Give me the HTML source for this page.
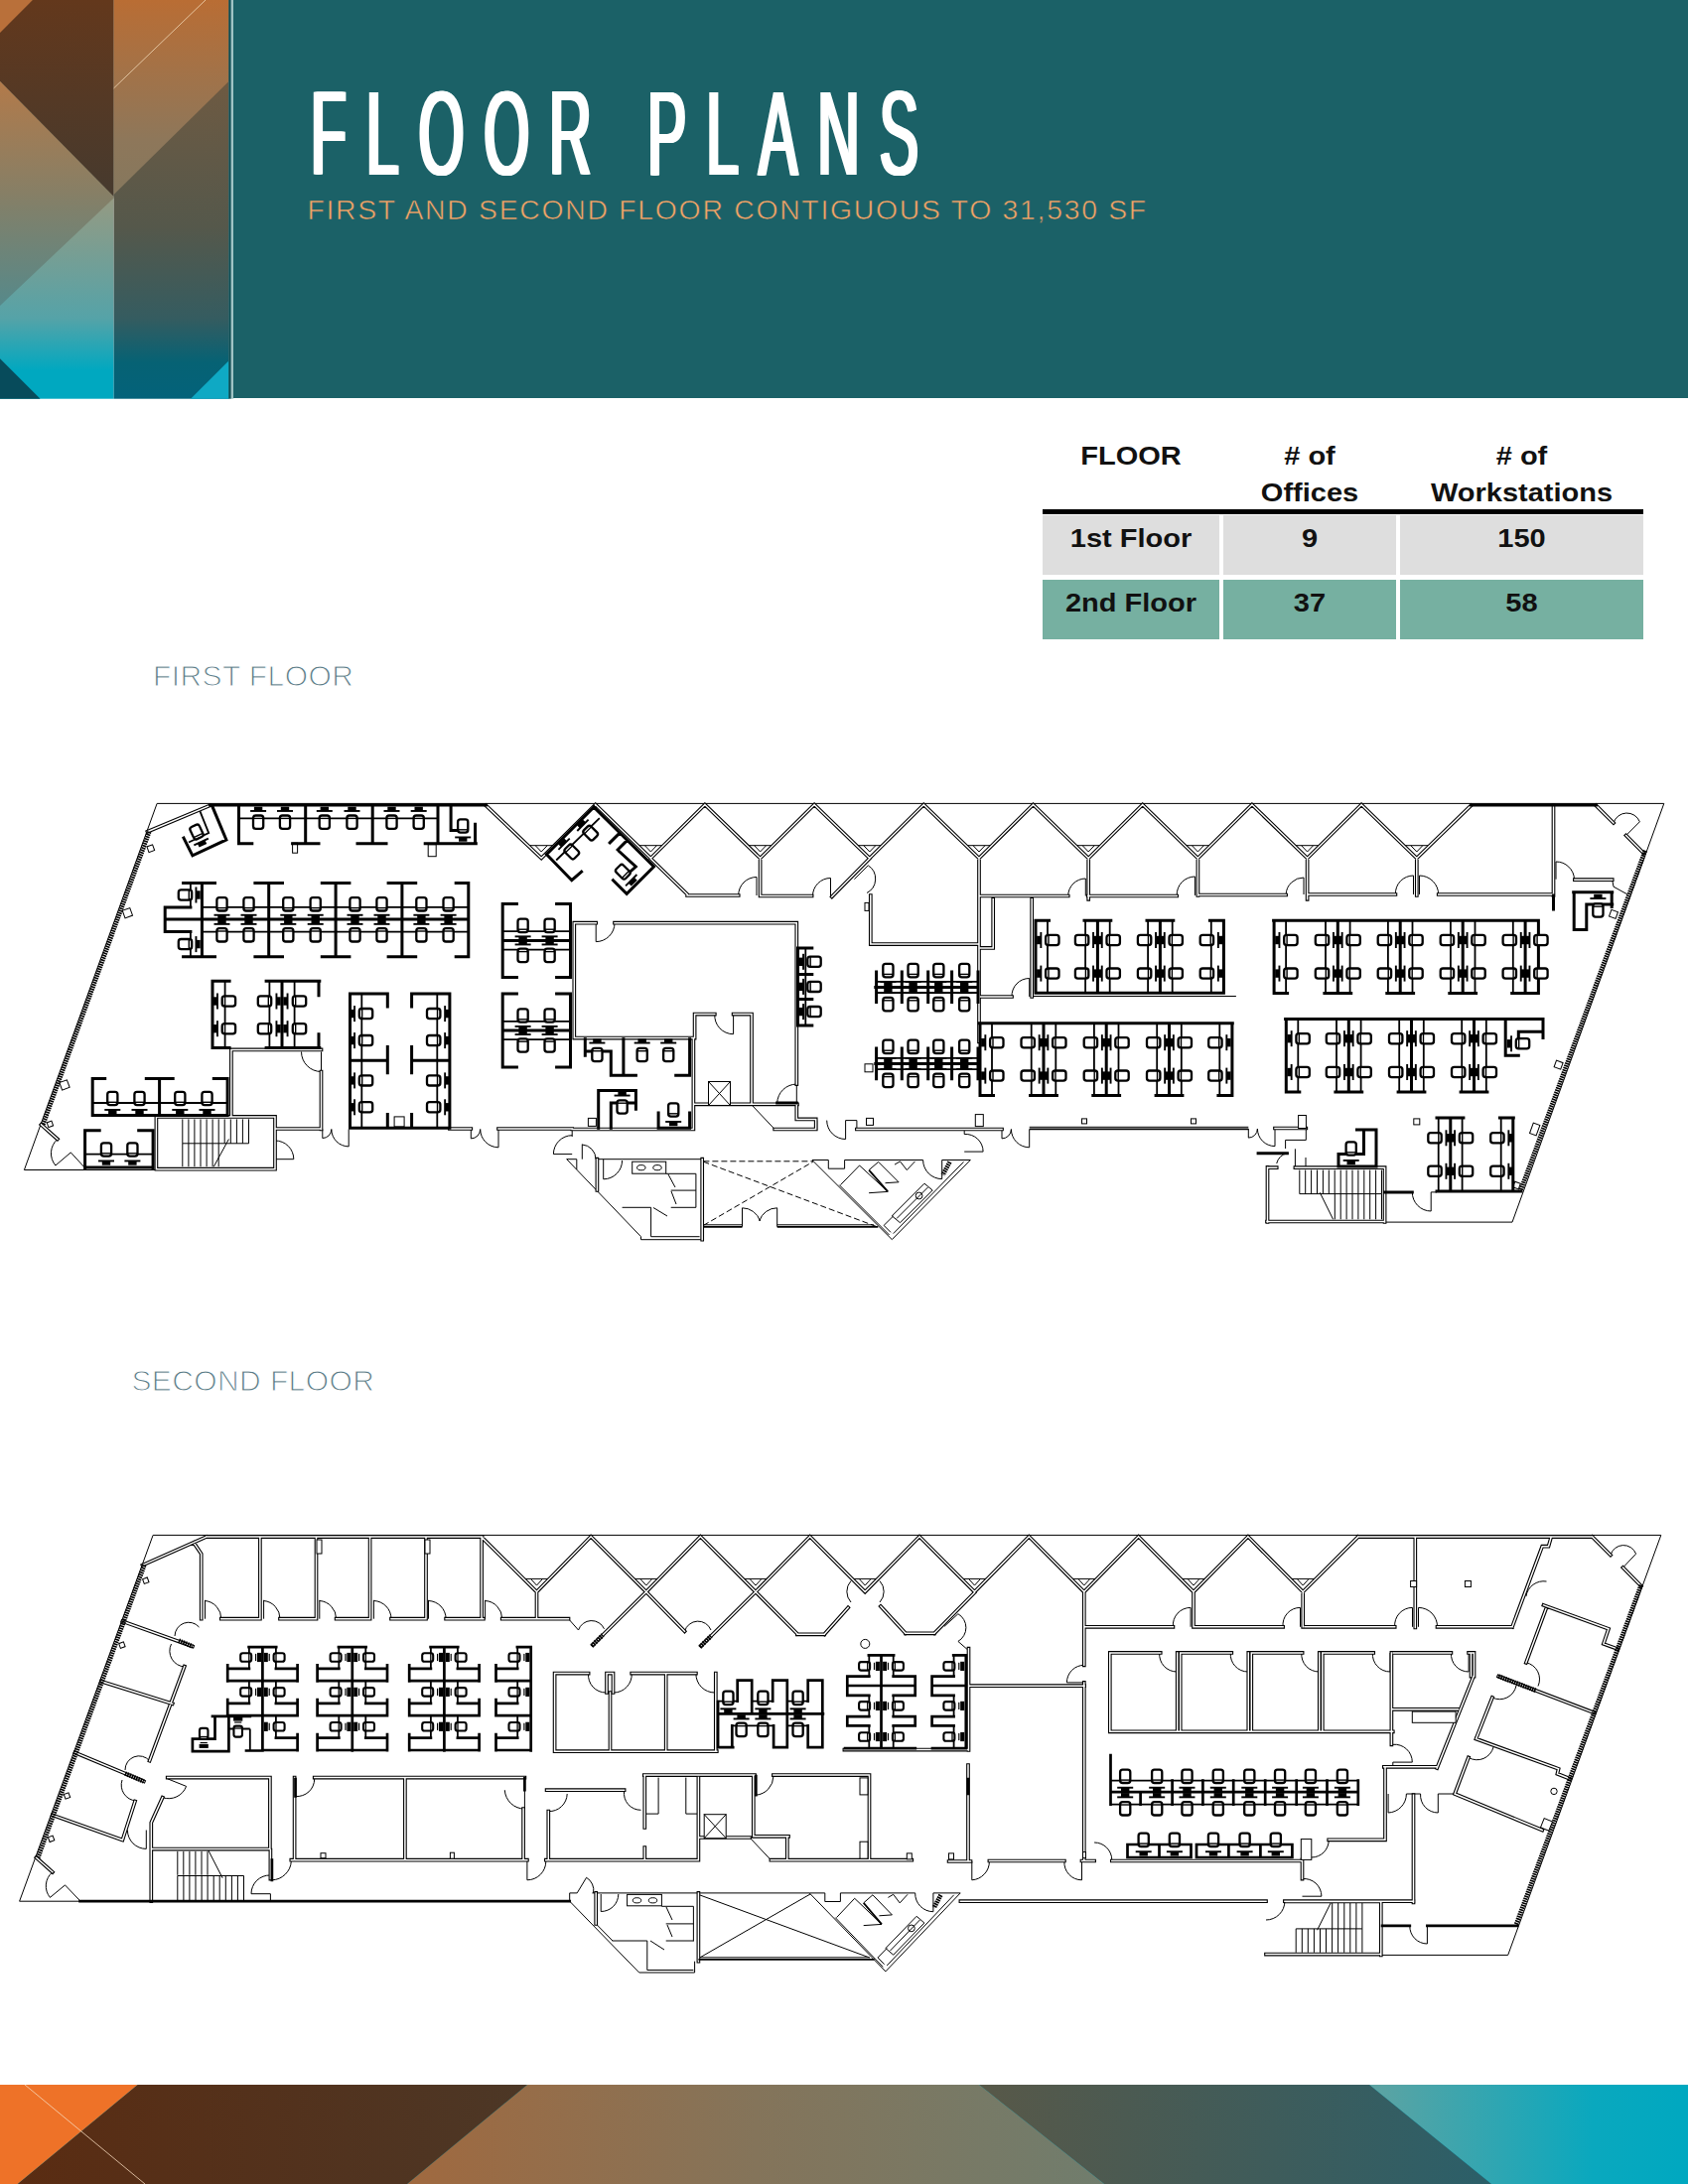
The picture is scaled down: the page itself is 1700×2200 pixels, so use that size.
<!DOCTYPE html>
<html lang="en"><head><meta charset="utf-8"><title>Floor Plans</title>
<style>
*{margin:0;padding:0;box-sizing:border-box}
html,body{width:1700px;height:2200px;background:#fff;overflow:hidden}
body{position:relative;font-family:"Liberation Sans",sans-serif}
.abs{position:absolute}
#hdr{left:235.3px;top:0;width:1464.7px;height:400.8px;background:#1b6167}
#title{left:311px;top:74px;font-size:120px;line-height:120px;color:#fff;white-space:nowrap;transform-origin:0 0;letter-spacing:0}
#sub{left:309.4px;top:195.3px;font-size:28.4px;line-height:32px;color:#f3a566;white-space:nowrap;letter-spacing:1.7px;-webkit-text-stroke:0.6px #1b6167}
.lbl{font-size:30px;line-height:32px;color:#5b7b86;white-space:nowrap;letter-spacing:0.4px;-webkit-text-stroke:1.1px #fff}
#tbl{left:1050px;top:440px;width:605px;font-weight:bold;color:#111;font-size:25px;text-align:center}
#tbl div{position:absolute;white-space:nowrap}
#tbl .c{transform:scaleX(1.16)}
</style></head><body>
<svg class="abs" style="left:0;top:0" width="236" height="402" viewBox="0 0 236 402">
<defs>
<linearGradient id="gA" gradientUnits="userSpaceOnUse" x1="0" y1="0" x2="0" y2="198"><stop offset="0" stop-color="#63381c"/><stop offset="1" stop-color="#463a2e"/></linearGradient>
<linearGradient id="gB" gradientUnits="userSpaceOnUse" x1="0" y1="83" x2="0" y2="308"><stop offset="0" stop-color="#b27a4a"/><stop offset="0.5" stop-color="#867f66"/><stop offset="1" stop-color="#56898a"/></linearGradient>
<linearGradient id="gC" gradientUnits="userSpaceOnUse" x1="0" y1="199" x2="0" y2="402"><stop offset="0" stop-color="#959a82"/><stop offset="0.6" stop-color="#55a3a8"/><stop offset="0.86" stop-color="#00a8c0"/><stop offset="1" stop-color="#00a8c0"/></linearGradient>
<linearGradient id="gD" gradientUnits="userSpaceOnUse" x1="0" y1="0" x2="0" y2="200"><stop offset="0" stop-color="#b96d34"/><stop offset="0.7" stop-color="#8e775a"/><stop offset="1" stop-color="#85785e"/></linearGradient>
<linearGradient id="gE" gradientUnits="userSpaceOnUse" x1="0" y1="82" x2="0" y2="402"><stop offset="0" stop-color="#6e5a42"/><stop offset="0.46" stop-color="#55584b"/><stop offset="0.745" stop-color="#355c60"/><stop offset="0.885" stop-color="#066274"/><stop offset="1" stop-color="#03627a"/></linearGradient>
</defs>
<rect x="0" y="0" width="114.6" height="401.7" fill="url(#gC)"/>
<polygon points="0,81.7 114.6,198 114.6,199.5 0,308" fill="url(#gB)"/>
<polygon points="0,0 114.6,0 114.6,198 0,81.7" fill="url(#gA)"/>
<polygon points="0,0 32.9,0 0,32.9" fill="#b9703a"/>
<polygon points="0,361.2 40.5,401.7 0,401.7" fill="#074b5b"/>
<rect x="114.6" y="0" width="116" height="401.7" fill="url(#gE)"/>
<polygon points="114.6,0 230.6,0 230.6,81.7 114.6,196" fill="url(#gD)"/>
<polygon points="230.6,363.2 230.6,401.7 192,401.7" fill="#0fa9c4"/>
<line x1="114.6" y1="88.9" x2="207" y2="0" stroke="#f3d9b8" stroke-width="0.8"/>
<rect x="230.3" y="0" width="2.5" height="401.7" fill="#0c4e54"/>
<rect x="232.8" y="0" width="2.5" height="401.7" fill="#9fc3c4"/>
</svg>
<div id="hdr" class="abs"></div>
<div id="title" class="abs" style="transform:scaleX(0.49);letter-spacing:40.9px;text-shadow:2px 0 #fff,4px 0 #fff,6px 0 #fff,7.5px 0 #fff">FLOOR PLANS</div>
<div id="sub" class="abs">FIRST AND SECOND FLOOR CONTIGUOUS TO 31,530 SF</div>
<div class="abs lbl" style="left:154px;top:664.6px">FIRST FLOOR</div>
<div class="abs lbl" style="left:132.4px;top:1374.6px">SECOND FLOOR</div>
<div id="tbl" class="abs">
<div style="left:0;top:73px;width:605px;height:5px;background:#000"></div>
<div style="left:0;top:79px;width:178px;height:60px;background:#dedede"></div>
<div style="left:182px;top:79px;width:174px;height:60px;background:#dedede"></div>
<div style="left:360px;top:79px;width:245px;height:60px;background:#dedede"></div>
<div style="left:0;top:144px;width:178px;height:60px;background:#76b0a1"></div>
<div style="left:182px;top:144px;width:174px;height:60px;background:#76b0a1"></div>
<div style="left:360px;top:144px;width:245px;height:60px;background:#76b0a1"></div>
<div class="c" style="left:0;width:178px;top:5px">FLOOR</div>
<div class="c" style="left:182px;width:174px;top:5px"># of</div>
<div class="c" style="left:182px;width:174px;top:42px">Offices</div>
<div class="c" style="left:360px;width:245px;top:5px"># of</div>
<div class="c" style="left:360px;width:245px;top:42px">Workstations</div>
<div class="c" style="left:0;width:178px;top:88px">1st Floor</div>
<div class="c" style="left:182px;width:174px;top:88px">9</div>
<div class="c" style="left:360px;width:245px;top:88px">150</div>
<div class="c" style="left:0;width:178px;top:153px">2nd Floor</div>
<div class="c" style="left:182px;width:174px;top:153px">37</div>
<div class="c" style="left:360px;width:245px;top:153px">58</div>
</div>
<svg class="abs" style="left:0;top:2100px" width="1700" height="100" viewBox="0 0 1700 100">
<defs>
<linearGradient id="hA" x1="0" y1="0" x2="1" y2="0"><stop offset="0" stop-color="#5a2c12"/><stop offset="1" stop-color="#4c3726"/></linearGradient>
<linearGradient id="hB" x1="0" y1="0" x2="1" y2="0"><stop offset="0" stop-color="#a0693f"/><stop offset="0.5" stop-color="#84745a"/><stop offset="1" stop-color="#707d6d"/></linearGradient>
<linearGradient id="hC" x1="0" y1="0" x2="1" y2="0"><stop offset="0" stop-color="#585848"/><stop offset="1" stop-color="#2b5f69"/></linearGradient>
<linearGradient id="hD" x1="0" y1="0" x2="1" y2="0"><stop offset="0" stop-color="#5fa3a2"/><stop offset="0.7" stop-color="#0aa8be"/><stop offset="1" stop-color="#00a8c0"/></linearGradient>
</defs>
<rect x="0" y="0" width="1700" height="100" fill="#00a8c0"/>
<polygon points="1379,0 1700,0 1700,100 1502,100" fill="url(#hD)"/>
<polygon points="986,0 1379,0 1502,100 1112,100" fill="url(#hC)"/>
<polygon points="531,0 986,0 1112,100 410,100" fill="url(#hB)"/>
<polygon points="138.5,0 531,0 410,100 17.6,100" fill="url(#hA)"/>
<polygon points="0,0 138.5,0 17.6,100 0,100" fill="#ee7228"/>
<line x1="25" y1="0" x2="146" y2="100" stroke="#f6d9bd" stroke-width="0.8"/>
</svg>
<svg class="abs" style="left:0;top:780px" width="1700" height="1300" viewBox="0 780 1700 1300">
<defs>
<g id="ch"><rect x="-5.1" y="-6.7" width="10.2" height="13.4" rx="2.6" fill="#fff" stroke="#000" stroke-width="2.3"/><path d="M-5 3.8H5" stroke="#000" stroke-width="1.4" fill="none"/></g>
<g id="mo"><rect x="-8" y="-1" width="16" height="1.9" fill="#000"/><rect x="-4.2" y="0" width="8.4" height="4.2" fill="#000"/></g>
<g id="cs"><rect x="-4.25" y="-5.6" width="8.5" height="11" rx="2.3" fill="#fff" stroke="#000" stroke-width="2.1"/><path d="M-4 3H4" stroke="#000" stroke-width="1.3" fill="none"/></g>
<g id="ms"><rect x="-3.6" y="-2.6" width="7.2" height="1.2" fill="#000"/><rect x="-4.6" y="-0.6" width="9.2" height="4" fill="#000"/></g>
</defs>
<g fill="none" stroke="#000" stroke-linecap="butt" stroke-linejoin="miter">
<path stroke-width="1" d="M24.4 1178.5 L158.1 809.4 L1675.8 809.4 L1523.0 1231.1 L1275.0 1231.1 M24.4 1178.5 L277.0 1178.5 M57.9 1147.5 A19.0 19.0 0 0 0 55.9 1174.0 L71.3 1160.9 M71.3 1160.9 L85.6 1176.5 M532.2 851.7 L558.2 851.7 M539.2 851.7 L545.2 858.0 L551.2 851.7 M642.4 851.7 L668.4 851.7 M649.4 851.7 L655.4 858.0 L661.4 851.7 M752.6 851.7 L778.6 851.7 M759.6 851.7 L765.6 858.0 L771.6 851.7 M862.8 851.7 L888.8 851.7 M869.8 851.7 L875.8 858.0 L881.8 851.7 M973.0 851.7 L999.0 851.7 M980.0 851.7 L986.0 858.0 L992.0 851.7 M1083.2 851.7 L1109.2 851.7 M1090.2 851.7 L1096.2 858.0 L1102.2 851.7 M1193.4 851.7 L1219.4 851.7 M1200.4 851.7 L1206.4 858.0 L1212.4 851.7 M1303.6 851.7 L1329.6 851.7 M1310.6 851.7 L1316.6 858.0 L1322.6 851.7 M1413.8 851.7 L1439.8 851.7 M1420.8 851.7 L1426.8 858.0 L1432.8 851.7 M743.7 902.0 A18.3 18.3 0 0 1 762.0 883.5 L762.0 902.0 M818.5 902.5 A18.0 18.0 0 0 1 836.5 884.5 L836.5 902.5 M860.4 885.7 L874.3 871.8 M874.3 871.8 A16.0 16.0 0 0 1 873.0 899.5 M1075.7 902.5 A17.6 17.6 0 0 1 1093.3 885.0 L1093.3 902.5 M1185.2 902.0 A18.3 18.3 0 0 1 1203.5 883.0 L1203.5 902.0 M1295.1 901.0 A17.9 17.9 0 0 1 1313.0 884.0 L1313.0 901.0 M1405.4 901.0 A18.1 18.1 0 0 1 1423.5 882.0 L1423.5 901.0 M1448.7 901.0 A19.2 19.2 0 0 0 1429.5 882.0 L1429.5 901.0 M1585.5 885.7 A18.5 18.5 0 0 0 1567.0 868.0 L1567.0 885.7 M1623.7 886.2 L1625.0 893.2 L1638.8 900.8 M1625.0 829.0 A14.0 14.0 0 0 1 1651.4 827.8 M1651.4 827.8 L1637.6 841.6 M1040.4 1003.5 L1244.9 1003.5 M1019.0 1004.0 A17.7 17.7 0 0 1 1036.7 985.5 L1036.7 1004.0 M303.5 1059.5 A20.0 20.0 0 0 0 323.5 1079.5 L323.5 1059.5 M183.8 1127.4 L183.8 1151.8 M189.9 1127.4 L189.9 1151.8 M195.9 1127.4 L195.9 1151.8 M202.0 1127.4 L202.0 1151.8 M208.1 1127.4 L208.1 1151.8 M214.1 1127.4 L214.1 1151.8 M220.2 1127.4 L220.2 1151.8 M226.2 1127.4 L226.2 1151.8 M232.3 1127.4 L232.3 1151.8 M238.4 1127.4 L238.4 1151.8 M244.4 1127.4 L244.4 1151.8 M250.5 1127.4 L250.5 1151.8 M183.8 1151.8 L183.8 1175.2 M189.9 1151.8 L189.9 1175.2 M195.9 1151.8 L195.9 1175.2 M202.0 1151.8 L202.0 1175.2 M208.1 1151.8 L208.1 1175.2 M214.1 1151.8 L214.1 1175.2 M220.2 1151.8 L220.2 1175.2 M183.8 1151.8 L250.5 1151.8 M230.4 1147.5 L215.3 1175.2 M277.0 1149.0 A18.7 18.7 0 0 1 295.8 1167.7 L277.0 1167.7 M324.8 1137.5 L324.8 1146.5 M324.8 1146.5 A9.0 9.0 0 0 0 333.8 1137.5 M351.2 1137.5 L351.2 1154.9 M351.2 1154.9 A17.4 17.4 0 0 1 333.8 1137.5 M474.3 1137.5 L474.3 1146.9 M474.3 1146.9 A9.4 9.4 0 0 0 483.7 1137.5 M502.0 1137.5 L502.0 1155.8 M502.0 1155.8 A18.3 18.3 0 0 1 483.7 1137.5 M619.0 929.7 A18.8 18.8 0 0 1 600.2 948.6 L600.2 929.7 M719.8 1021.6 A18.8 18.8 0 0 0 738.6 1041.7 L738.6 1021.6 M782.7 1111.0 A19.6 19.6 0 0 1 802.3 1092.1 L802.3 1111.0 M757.5 1113.5 L780.2 1137.5 M822.7 1128.6 L822.7 1138.7 M832.7 1128.6 A18.9 18.9 0 0 0 851.6 1147.5 L851.6 1128.6 M851.6 1128.6 L862.9 1128.6 M862.9 1128.6 L862.9 1137.5 M1009.0 1137.5 L1009.0 1146.9 M1009.0 1146.9 A9.4 9.4 0 0 0 1018.4 1137.5 M1036.7 1137.5 L1036.7 1155.8 M1036.7 1155.8 A18.3 18.3 0 0 1 1018.4 1137.5 M1036.7 1135.3 L1257.3 1135.3 M1257.3 1137.0 L1257.3 1146.1 M1257.3 1146.1 A9.1 9.1 0 0 0 1266.4 1137.0 M1284.0 1137.0 L1284.0 1154.6 M1284.0 1154.6 A17.6 17.6 0 0 1 1266.4 1137.0 M1315.3 1136.5 L1315.3 1148.4 L1294.6 1148.4 L1294.6 1157.0 M1296.4 1161.7 A14.2 14.2 0 0 0 1285.7 1172.0 M1304.4 1157.3 L1304.4 1176.0 M1315.0 1166.0 L1315.0 1176.0 M1308.8 1178.6 L1308.8 1202.6 M1314.7 1178.6 L1314.7 1202.6 M1320.6 1178.6 L1320.6 1202.6 M1326.5 1178.6 L1326.5 1202.6 M1332.4 1178.6 L1332.4 1202.6 M1338.3 1178.6 L1338.3 1202.6 M1344.2 1178.6 L1344.2 1202.6 M1350.2 1178.6 L1350.2 1202.6 M1356.1 1178.6 L1356.1 1202.6 M1362.0 1178.6 L1362.0 1202.6 M1367.9 1178.6 L1367.9 1202.6 M1373.8 1178.6 L1373.8 1202.6 M1379.7 1178.6 L1379.7 1202.6 M1385.6 1178.6 L1385.6 1202.6 M1391.5 1178.6 L1391.5 1202.6 M1344.3 1202.6 L1344.3 1228.3 M1350.2 1202.6 L1350.2 1228.3 M1356.1 1202.6 L1356.1 1228.3 M1362.0 1202.6 L1362.0 1228.3 M1367.9 1202.6 L1367.9 1228.3 M1373.8 1202.6 L1373.8 1228.3 M1379.7 1202.6 L1379.7 1228.3 M1385.6 1202.6 L1385.6 1228.3 M1391.5 1202.6 L1391.5 1228.3 M1308.8 1202.6 L1391.5 1202.6 M1329.3 1201.3 L1342.6 1228.3 M1422.3 1200.9 A18.9 18.9 0 0 0 1441.2 1220.0 L1441.2 1200.9 M1441.2 1200.9 L1447.0 1200.9 M576.2 1137.5 L576.2 1145.0 M576.2 1143.7 A18.9 18.9 0 0 0 557.4 1162.6 L576.2 1162.6 M586.3 1152.6 L586.3 1167.7 M586.3 1153.0 A14.7 14.7 0 0 1 600.0 1167.7 M570.7 1167.7 L645.5 1245.7 L645.5 1248.7 L705.9 1248.7 M570.7 1167.7 L580.8 1167.7 M601.4 1167.7 L707.2 1167.7 M580.8 1167.7 L580.8 1178.0 M607.7 1167.7 L607.7 1187.8 M607.7 1187.8 A18.8 18.8 0 0 0 626.6 1169.0 M670.7 1182.3 L700.9 1182.3 M675.7 1199.1 L700.9 1199.1 M675.7 1216.3 L700.9 1216.3 M700.9 1182.3 L700.9 1216.3 M673.0 1183.0 L680.0 1196.0 M676.0 1200.0 L681.0 1213.0 M658.0 1216.5 L672.0 1225.0 M626.6 1216.3 L655.6 1216.3 M655.6 1216.3 L655.6 1245.7 M655.6 1245.7 L704.6 1245.7 M708.4 1233.8 L747.5 1233.8 M747.5 1216.8 L747.5 1235.7 M782.7 1216.8 L782.7 1235.7 M782.7 1233.8 L880.0 1233.8 M747.5 1216.8 A18.9 18.9 0 0 1 765.5 1230.0 M782.7 1216.8 A18.9 18.9 0 0 0 764.7 1230.0 M817.9 1168.5 L834.3 1168.5 L834.3 1177.2 L850.6 1177.2 L850.6 1168.5 L929.6 1168.5 M948.7 1168.5 L977.3 1168.5 M929.6 1168.5 A19.1 19.1 0 0 0 948.7 1187.6 L948.7 1168.5 M977.3 1168.5 L898.3 1248.6 L817.9 1168.5 M845.2 1193.6 L895.6 1244.0 M970.5 1170.4 L899.7 1242.6 M846.5 1193.6 L865.6 1174.0 L894.2 1200.4 L875.1 1201.7 M875.1 1178.6 L884.7 1170.4 L905.1 1190.8 L891.5 1191.7 M901.0 1173.1 L906.5 1169.9 L913.3 1178.6 L921.5 1169.9 M931.0 1192.2 L939.2 1199.0 L906.5 1231.7 L898.3 1224.9 L931.0 1192.2 M934.5 1196.0 L903.0 1227.5 M899.7 1224.9 L890.1 1234.4 L897.0 1241.3 M971.2 1138.7 L971.2 1142.5 M971.2 1142.5 A17.6 17.6 0 0 1 990.1 1160.1 L971.2 1160.1"/>
<path stroke-width="1" stroke-dasharray="6 3" d="M708.4 1170.2 L883.1 1235.7 M708.4 1234.4 L818.9 1170.2 M708.4 1169.8 L818.9 1169.8"/>
<path stroke-width="3.7" stroke-linecap="square" d="M148.5 837.8 L211.5 811.4 M41.5 1132.9 L57.9 1147.5 M489.4 811.4 L545.2 864.5 L599.7 810.5 L655.4 864.5 L709.9 810.5 L765.6 864.5 L820.1 810.5 L875.8 864.5 L930.3 810.5 L986.0 864.5 L1040.5 810.5 L1096.2 864.5 L1150.7 810.5 L1206.4 864.5 L1260.9 810.5 L1316.6 864.5 L1371.1 810.5 L1426.8 864.5 L1481.5 811.4 M655.4 865.0 L692.1 900.8 M692.1 902.0 L743.7 902.0 M765.6 864.5 L765.6 902.0 M765.6 902.5 L817.6 902.5 M837.8 903.3 L875.8 864.8 M876.8 902.0 L876.8 951.1 M876.8 951.1 L985.0 951.1 M986.0 864.5 L986.0 1049.3 M1096.2 864.5 L1096.2 905.8 M1206.4 864.5 L1206.4 902.0 M1316.6 864.5 L1316.6 905.8 M1426.8 864.5 L1426.8 902.0 M986.0 902.5 L1075.7 902.5 M1095.8 902.5 L1185.2 902.5 M1206.4 901.5 L1295.1 901.5 M1317.8 901.0 L1405.4 901.0 M1448.7 901.0 L1563.3 901.0 M1564.5 811.4 L1564.5 902.0 M1585.9 886.2 L1623.7 886.2 M1607.4 811.4 L1625.0 829.0 M1637.6 841.6 L1655.2 859.2 M1000.2 905.8 L1000.2 954.9 M987.6 954.9 L1000.2 954.9 M1039.2 905.8 L1039.2 1004.0 M987.6 1004.0 L1019.0 1004.0 M232.9 1057.4 L232.9 1123.6 M232.9 1057.4 L323.5 1057.4 M323.5 1079.5 L323.5 1137.5 M277.0 1137.0 L323.5 1137.0 M157.4 1124.9 L277.0 1124.9 L277.0 1177.7 L157.4 1177.7 L157.4 1124.9 M452.9 1137.0 L474.3 1137.0 M502.0 1137.0 L576.2 1137.0 M578.3 929.7 L578.3 1045.6 M578.3 929.7 L600.2 929.7 M619.0 929.7 L802.3 929.7 M802.3 929.7 L802.3 1092.1 M578.3 1045.6 L699.6 1045.6 L699.6 1021.6 L719.8 1021.6 M738.6 1021.6 L757.0 1021.6 L757.0 1112.3 M698.4 1045.6 L698.4 1137.5 M698.4 1112.3 L802.9 1112.3 M780.2 1137.5 L821.4 1137.5 M802.3 1112.3 L802.3 1127.4 L821.7 1127.4 L821.7 1137.5 M576.2 1137.5 L698.4 1137.5 M862.9 1137.5 L1009.0 1137.5 M1284.0 1136.5 L1315.3 1136.5 M1276.5 1175.9 L1276.5 1231.0 M1276.5 1176.2 L1285.7 1176.2 M1304.4 1176.2 L1394.0 1176.2 M1394.6 1176.2 L1394.6 1231.0 M1276.0 1230.5 L1394.6 1230.5 M707.2 1167.7 L707.2 1248.7 M601.4 1167.7 L601.4 1199.0"/>
<path stroke="#fff" stroke-width="1.5" stroke-linecap="square" d="M148.5 837.8 L211.5 811.4 M41.5 1132.9 L57.9 1147.5 M489.4 811.4 L545.2 864.5 L599.7 810.5 L655.4 864.5 L709.9 810.5 L765.6 864.5 L820.1 810.5 L875.8 864.5 L930.3 810.5 L986.0 864.5 L1040.5 810.5 L1096.2 864.5 L1150.7 810.5 L1206.4 864.5 L1260.9 810.5 L1316.6 864.5 L1371.1 810.5 L1426.8 864.5 L1481.5 811.4 M655.4 865.0 L692.1 900.8 M692.1 902.0 L743.7 902.0 M765.6 864.5 L765.6 902.0 M765.6 902.5 L817.6 902.5 M837.8 903.3 L875.8 864.8 M876.8 902.0 L876.8 951.1 M876.8 951.1 L985.0 951.1 M986.0 864.5 L986.0 1049.3 M1096.2 864.5 L1096.2 905.8 M1206.4 864.5 L1206.4 902.0 M1316.6 864.5 L1316.6 905.8 M1426.8 864.5 L1426.8 902.0 M986.0 902.5 L1075.7 902.5 M1095.8 902.5 L1185.2 902.5 M1206.4 901.5 L1295.1 901.5 M1317.8 901.0 L1405.4 901.0 M1448.7 901.0 L1563.3 901.0 M1564.5 811.4 L1564.5 902.0 M1585.9 886.2 L1623.7 886.2 M1607.4 811.4 L1625.0 829.0 M1637.6 841.6 L1655.2 859.2 M1000.2 905.8 L1000.2 954.9 M987.6 954.9 L1000.2 954.9 M1039.2 905.8 L1039.2 1004.0 M987.6 1004.0 L1019.0 1004.0 M232.9 1057.4 L232.9 1123.6 M232.9 1057.4 L323.5 1057.4 M323.5 1079.5 L323.5 1137.5 M277.0 1137.0 L323.5 1137.0 M157.4 1124.9 L277.0 1124.9 L277.0 1177.7 L157.4 1177.7 L157.4 1124.9 M452.9 1137.0 L474.3 1137.0 M502.0 1137.0 L576.2 1137.0 M578.3 929.7 L578.3 1045.6 M578.3 929.7 L600.2 929.7 M619.0 929.7 L802.3 929.7 M802.3 929.7 L802.3 1092.1 M578.3 1045.6 L699.6 1045.6 L699.6 1021.6 L719.8 1021.6 M738.6 1021.6 L757.0 1021.6 L757.0 1112.3 M698.4 1045.6 L698.4 1137.5 M698.4 1112.3 L802.9 1112.3 M780.2 1137.5 L821.4 1137.5 M802.3 1112.3 L802.3 1127.4 L821.7 1127.4 L821.7 1137.5 M576.2 1137.5 L698.4 1137.5 M862.9 1137.5 L1009.0 1137.5 M1284.0 1136.5 L1315.3 1136.5 M1276.5 1175.9 L1276.5 1231.0 M1276.5 1176.2 L1285.7 1176.2 M1304.4 1176.2 L1394.0 1176.2 M1394.6 1176.2 L1394.6 1231.0 M1276.0 1230.5 L1394.6 1230.5 M707.2 1167.7 L707.2 1248.7 M601.4 1167.7 L601.4 1199.0"/>
<path stroke-width="4.6" stroke-dasharray="1.6 0.8" d="M150.3 837.8 L43.3 1132.9 M1656.9 856.7 L1531.0 1200.4 M956.5 1170.5 L949.5 1183.5"/>
</g>
<rect x="148.8" y="851.7" width="6.0" height="6.0" fill="#fff" stroke="#000" stroke-width="1" transform="rotate(-20 151.8 854.7)"/>
<rect x="124.4" y="915.7" width="8.0" height="8.0" fill="#fff" stroke="#000" stroke-width="1" transform="rotate(-20 128.4 919.7)"/>
<rect x="61.0" y="1088.9" width="8.0" height="8.0" fill="#fff" stroke="#000" stroke-width="1" transform="rotate(-20 65.0 1092.9)"/>
<rect x="47.9" y="1129.9" width="5.0" height="5.0" fill="#fff" stroke="#000" stroke-width="1" transform="rotate(-20 50.4 1132.4)"/>
<rect x="1621.5" y="917.4" width="7.0" height="7.0" fill="#fff" stroke="#000" stroke-width="1" transform="rotate(20 1625.0 920.9)"/>
<rect x="1566.1" y="1069.2" width="7.0" height="7.0" fill="#fff" stroke="#000" stroke-width="1" transform="rotate(20 1569.6 1072.7)"/>
<rect x="1542.2" y="1132.0" width="7.0" height="11.0" fill="#fff" stroke="#000" stroke-width="1" transform="rotate(20 1545.7 1137.5)"/>
<rect x="1524.5" y="1191.1" width="6.0" height="6.0" fill="#fff" stroke="#000" stroke-width="1" transform="rotate(20 1527.5 1194.1)"/>
<rect x="871.0" y="909.4" width="4.0" height="8.0" fill="#fff" stroke="#000" stroke-width="1"/>
<rect x="294.6" y="849.2" width="5.0" height="10.0" fill="#fff" stroke="#000" stroke-width="1"/>
<rect x="431.2" y="850.7" width="8.0" height="12.0" fill="#fff" stroke="#000" stroke-width="1"/>
<rect x="397.1" y="1124.9" width="10.0" height="10.0" fill="#fff" stroke="#000" stroke-width="1"/>
<rect x="713.5" y="1089.5" width="22.0" height="24.0" fill="#fff" stroke="#000" stroke-width="1"/>
<path d="M713.5 1089.5L735.5 1113.5M735.5 1089.5L713.5 1113.5" stroke="#000" fill="none"/>
<rect x="592.4" y="1126.4" width="8.0" height="8.0" fill="#fff" stroke="#000" stroke-width="1"/>
<rect x="871.0" y="1071.8" width="8.0" height="8.0" fill="#fff" stroke="#000" stroke-width="1"/>
<rect x="1307.6" y="1123.5" width="7.8" height="13.0" fill="#fff" stroke="#000" stroke-width="1"/>
<rect x="872.5" y="1126.4" width="7.0" height="7.0" fill="#fff" stroke="#000" stroke-width="1"/>
<rect x="982.3" y="1122.6" width="8.0" height="12.0" fill="#fff" stroke="#000" stroke-width="1"/>
<rect x="1089.5" y="1126.9" width="5.0" height="5.0" fill="#fff" stroke="#000" stroke-width="1"/>
<rect x="1199.5" y="1126.9" width="5.0" height="5.0" fill="#fff" stroke="#000" stroke-width="1"/>
<rect x="1423.8" y="1126.9" width="6.0" height="6.0" fill="#fff" stroke="#000" stroke-width="1"/>
<rect x="636.7" y="1170.2" width="34.0" height="12.0" fill="#fff" stroke="#000" stroke-width="1"/>
<ellipse cx="645.8" cy="1176.2" rx="4.2" ry="2.6" fill="none" stroke="#000"/><ellipse cx="662" cy="1176.2" rx="4.2" ry="2.6" fill="none" stroke="#000"/>
<circle cx="925.6" cy="1204.5" r="3.4" fill="none" stroke="#000" stroke-width="1"/>
<g fill="none" stroke="#000">
<path stroke-width="1.8" d="M240.5 824.4 L441.0 824.4 M201.4 817.2 L210.2 839.1 L190.0 848.5 M203.4 913.9 L471.8 913.9 M203.4 938.6 L471.8 938.6 M191.9 889.5 L191.9 913.9 M191.9 938.6 L191.9 963.7 M226.6 988.2 L226.6 1055.6 M271.4 988.2 L271.4 1055.6 M296.6 988.2 L296.6 1055.6 M93.2 1111.0 L229.1 1111.0 M85.6 1162.6 L154.1 1162.6 M364.3 1001.0 L364.3 1136.2 M440.3 1001.0 L440.3 1136.2 M506.2 938.2 L574.5 938.2 M506.2 956.6 L574.5 956.6 M506.2 1028.8 L574.5 1028.8 M506.2 1047.2 L574.5 1047.2 M811.3 954.9 L811.3 1033.0 M603.8 824.1 L560.2 866.5 M882.0 988.8 L985.0 988.8 M882.0 1000.0 L985.0 1000.0 M882.0 1065.9 L985.0 1065.9 M882.0 1077.1 L985.0 1077.1 M1093.1 927.2 L1093.1 1000.2 M1117.7 927.2 L1117.7 1000.2 M1156.1 927.2 L1156.1 1000.2 M1180.7 927.2 L1180.7 1000.2 M1055.0 927.2 L1055.0 1000.2 M1219.8 927.2 L1219.8 1000.2 M1038.7 1030.8 L1038.7 1103.6 M1063.3 1030.8 L1063.3 1103.6 M1101.9 1030.8 L1101.9 1103.6 M1126.5 1030.8 L1126.5 1103.6 M1165.2 1030.8 L1165.2 1103.6 M1189.8 1030.8 L1189.8 1103.6 M999.0 1030.8 L999.0 1103.6 M1228.3 1030.8 L1228.3 1103.6 M1335.0 927.3 L1335.0 1000.5 M1359.6 927.3 L1359.6 1000.5 M1397.9 927.3 L1397.9 1000.5 M1422.5 927.3 L1422.5 1000.5 M1460.9 927.3 L1460.9 1000.5 M1485.5 927.3 L1485.5 1000.5 M1295.1 927.3 L1295.1 1000.5 M1523.8 927.3 L1523.8 1000.5 M1346.0 1026.4 L1346.0 1100.0 M1370.6 1026.4 L1370.6 1100.0 M1409.2 1026.4 L1409.2 1100.0 M1433.8 1026.4 L1433.8 1100.0 M1472.2 1026.4 L1472.2 1100.0 M1496.8 1026.4 L1496.8 1100.0 M1307.3 1026.4 L1307.3 1100.0 M1448.7 1126.1 L1448.7 1199.1 M1472.6 1126.1 L1472.6 1199.1 M1511.7 1126.1 L1511.7 1199.1 M1036.7 1137.4 L1257.3 1137.4 M708.4 1235.9 L747.5 1235.9 M782.7 1235.9 L884.3 1235.9 M875.1 1178.6 L894.2 1200.4"/>
<path stroke-width="3" stroke-linecap="square" d="M211.5 811.0 L489.4 811.0 M1481.5 811.0 L1607.4 811.0 M1564.5 902.0 L1564.5 915.9 M240.5 811.4 L240.5 849.7 M240.5 849.7 L253.8 849.7 M307.7 811.4 L307.7 849.7 M294.6 849.7 L321.0 849.7 M375.2 811.4 L375.2 849.7 M360.0 849.7 L389.0 849.7 M441.0 811.4 L441.0 849.7 M428.2 849.7 L479.3 849.7 M454.1 811.4 L454.1 836.6 M454.1 836.6 L460.4 836.6 M478.6 830.3 L478.6 849.7 M214.0 812.7 L227.9 845.9 L193.9 861.8 L185.0 844.1 M166.2 926.0 L471.8 926.0 M166.2 913.9 L166.2 938.6 M166.2 913.9 L191.9 913.9 M166.2 938.6 L191.9 938.6 M203.4 889.5 L203.4 963.7 M184.6 889.5 L216.5 889.5 M184.6 963.7 L216.5 963.7 M270.7 889.5 L270.7 963.7 M256.9 889.5 L284.5 889.5 M256.9 963.7 L284.5 963.7 M338.1 889.5 L338.1 963.7 M324.3 889.5 L351.9 889.5 M324.3 963.7 L351.9 963.7 M404.9 889.5 L404.9 963.7 M391.1 889.5 L418.7 889.5 M391.1 963.7 L418.7 963.7 M471.8 889.5 L471.8 963.7 M459.2 889.5 L471.8 889.5 M459.2 963.7 L471.8 963.7 M214.0 988.2 L214.0 1055.6 M214.0 988.2 L231.1 988.2 M214.0 1055.6 L231.1 1055.6 M268.1 988.2 L321.8 988.2 M321.0 988.2 L321.0 1002.8 M321.0 1041.8 L321.0 1055.6 M268.1 1055.6 L321.8 1055.6 M284.0 988.2 L284.0 1055.6 M93.2 1086.6 L93.2 1123.6 M93.2 1086.6 L105.7 1086.6 M147.3 1086.6 L174.2 1086.6 M160.6 1086.6 L160.6 1123.6 M215.3 1086.6 L229.1 1086.6 M229.1 1086.6 L229.1 1123.6 M93.2 1123.6 L229.1 1123.6 M85.6 1138.7 L85.6 1176.5 M85.6 1138.7 L100.2 1138.7 M139.7 1138.7 L154.1 1138.7 M154.1 1138.7 L154.1 1176.5 M85.6 1176.0 L154.1 1176.0 M352.5 1001.0 L352.5 1136.2 M352.5 1001.0 L390.3 1001.0 M390.3 1001.0 L390.3 1014.1 M352.5 1068.2 L390.3 1068.2 M390.3 1054.4 L390.3 1080.8 M390.3 1122.4 L390.3 1136.2 M452.9 1001.0 L452.9 1136.2 M452.9 1001.0 L414.6 1001.0 M414.6 1001.0 L414.6 1014.1 M452.9 1068.2 L414.6 1068.2 M414.6 1054.4 L414.6 1080.8 M414.6 1122.4 L414.6 1136.2 M352.5 1136.2 L452.9 1136.2 M506.2 910.4 L506.2 984.4 M506.2 910.4 L520.4 910.4 M506.2 984.4 L520.4 984.4 M574.5 910.4 L574.5 984.4 M560.6 910.4 L574.5 910.4 M560.6 984.4 L574.5 984.4 M506.2 947.4 L574.5 947.4 M506.2 1001.0 L506.2 1075.0 M506.2 1001.0 L520.4 1001.0 M506.2 1075.0 L520.4 1075.0 M574.5 1001.0 L574.5 1075.0 M560.6 1001.0 L574.5 1001.0 M560.6 1075.0 L574.5 1075.0 M506.2 1038.0 L574.5 1038.0 M782.7 1111.0 L802.3 1111.0 M589.3 1046.8 L589.3 1063.2 M589.3 1058.9 L615.3 1058.9 M615.3 1058.9 L615.3 1083.3 M615.3 1083.3 L640.4 1083.3 M627.9 1046.8 L627.9 1083.3 M694.6 1046.8 L694.6 1083.3 M680.7 1083.3 L694.6 1083.3 M602.7 1098.4 L602.7 1136.2 M602.7 1098.4 L640.4 1098.4 M640.4 1098.4 L640.4 1117.3 M615.3 1111.0 L640.4 1111.0 M615.3 1111.0 L615.3 1136.2 M663.1 1121.1 L663.1 1136.2 M694.6 1121.1 L694.6 1136.2 M663.1 1136.2 L694.6 1136.2 M803.5 954.9 L803.5 1033.0 M803.5 954.9 L817.8 954.9 M803.5 981.4 L817.8 981.4 M803.5 1006.5 L817.8 1006.5 M803.5 1033.0 L817.8 1033.0 M598.0 813.0 L550.4 860.6 L575.8 886.7 L585.6 878.2 M598.0 813.0 L658.5 873.0 L631.2 900.4 L617.5 886.7 M624.0 839.1 L614.2 848.9 M622.1 856.0 L631.2 846.9 M624.0 858.0 L640.3 873.0 L633.1 879.5 M881.8 994.4 L985.0 994.4 M882.6 979.0 L882.6 1009.6 M908.3 979.0 L908.3 1009.6 M934.7 979.0 L934.7 1009.6 M958.6 979.0 L958.6 1009.6 M985.0 979.0 L985.0 1009.6 M881.8 1071.5 L985.0 1071.5 M882.6 1056.1 L882.6 1086.7 M908.3 1056.1 L908.3 1086.7 M934.7 1056.1 L934.7 1086.7 M958.6 1056.1 L958.6 1086.7 M985.0 1056.1 L985.0 1086.7 M1105.4 927.2 L1105.4 1000.2 M1092.0 927.2 L1118.8 927.2 M1168.4 927.2 L1168.4 1000.2 M1155.0 927.2 L1181.8 927.2 M1043.0 927.2 L1043.0 1000.2 M1043.0 927.2 L1056.5 927.2 M1232.4 927.2 L1232.4 1000.2 M1218.4 927.2 L1232.4 927.2 M1043.0 1000.2 L1232.4 1000.2 M1051.0 1030.8 L1051.0 1103.6 M1037.6 1103.6 L1064.4 1103.6 M1114.2 1030.8 L1114.2 1103.6 M1100.8 1103.6 L1127.6 1103.6 M1177.5 1030.8 L1177.5 1103.6 M1164.1 1103.6 L1190.9 1103.6 M987.0 1030.8 L987.0 1103.6 M987.0 1103.6 L1000.5 1103.6 M1240.9 1030.8 L1240.9 1103.6 M1226.9 1103.6 L1240.9 1103.6 M986.3 1030.8 L1241.3 1030.8 M1347.3 927.3 L1347.3 1000.5 M1333.9 1000.5 L1360.7 1000.5 M1410.2 927.3 L1410.2 1000.5 M1396.8 1000.5 L1423.6 1000.5 M1473.2 927.3 L1473.2 1000.5 M1459.8 1000.5 L1486.6 1000.5 M1283.1 927.3 L1283.1 1000.5 M1283.1 1000.5 L1296.6 1000.5 M1536.1 927.3 L1536.1 1000.5 M1549.4 927.3 L1549.4 1000.5 M1522.7 1000.5 L1549.4 1000.5 M1282.6 927.3 L1549.4 927.3 M1358.3 1026.4 L1358.3 1100.0 M1344.9 1100.0 L1371.7 1100.0 M1421.5 1026.4 L1421.5 1100.0 M1408.1 1100.0 L1434.9 1100.0 M1484.5 1026.4 L1484.5 1100.0 M1471.1 1100.0 L1497.9 1100.0 M1295.3 1026.4 L1295.3 1100.0 M1295.3 1100.0 L1308.8 1100.0 M1294.6 1026.4 L1554.0 1026.4 M1554.0 1026.4 L1554.0 1045.6 M1516.2 1028.0 L1516.2 1063.2 M1516.2 1063.2 L1529.3 1063.2 M1529.3 1039.3 L1554.0 1039.3 M1529.3 1039.3 L1529.3 1046.0 M1447.0 1126.1 L1473.9 1126.1 M1460.8 1126.1 L1460.8 1199.1 M1510.4 1126.1 L1524.3 1126.1 M1523.8 1126.1 L1523.8 1199.1 M1447.0 1199.9 L1531.8 1199.9 M1584.7 898.8 L1623.7 898.8 M1585.2 898.8 L1585.2 936.5 M1585.2 936.5 L1597.8 936.5 M1597.8 910.9 L1597.8 936.5 M1597.8 910.9 L1623.7 910.9 M1623.2 898.8 L1623.2 913.4 M1267.1 1161.7 L1296.4 1161.7 M1366.5 1137.9 L1386.0 1137.9 M1386.0 1137.9 L1386.0 1175.1 M1348.0 1175.1 L1386.0 1175.1 M1348.0 1162.6 L1348.0 1175.1 M1348.0 1162.6 L1373.5 1162.6 M1373.5 1137.9 L1373.5 1162.6 M1394.6 1200.9 L1422.3 1200.9"/>
</g>
<use href="#ch" transform="translate(260.1 828.2) rotate(180)"/>
<use href="#mo" transform="translate(260.1 828.2) rotate(180) translate(0 11.3)"/>
<use href="#ch" transform="translate(287.0 828.2) rotate(180)"/>
<use href="#mo" transform="translate(287.0 828.2) rotate(180) translate(0 11.3)"/>
<use href="#ch" transform="translate(326.8 828.2) rotate(180)"/>
<use href="#mo" transform="translate(326.8 828.2) rotate(180) translate(0 11.3)"/>
<use href="#ch" transform="translate(354.5 828.2) rotate(180)"/>
<use href="#mo" transform="translate(354.5 828.2) rotate(180) translate(0 11.3)"/>
<use href="#ch" transform="translate(394.5 828.2) rotate(180)"/>
<use href="#mo" transform="translate(394.5 828.2) rotate(180) translate(0 11.3)"/>
<use href="#ch" transform="translate(421.7 828.2) rotate(180)"/>
<use href="#mo" transform="translate(421.7 828.2) rotate(180) translate(0 11.3)"/>
<use href="#ch" transform="translate(466.2 832.0)"/>
<use href="#mo" transform="translate(466.2 832.0) translate(0 11.5)"/>
<use href="#ch" transform="translate(198.0 838.0) rotate(-25)"/>
<use href="#mo" transform="translate(198.0 838.0) rotate(-25) translate(0 11.0)"/>
<use href="#ch" transform="translate(186.5 901.5) rotate(270)"/>
<use href="#mo" transform="translate(186.5 901.5) rotate(270) translate(0 11.0)"/>
<use href="#ch" transform="translate(186.5 951.1) rotate(270)"/>
<use href="#mo" transform="translate(186.5 951.1) rotate(270) translate(0 11.0)"/>
<use href="#ch" transform="translate(223.5 910.8)"/>
<use href="#mo" transform="translate(223.5 910.8) translate(0 11.0)"/>
<use href="#ch" transform="translate(223.5 941.8) rotate(180)"/>
<use href="#mo" transform="translate(223.5 941.8) rotate(180) translate(0 11.0)"/>
<use href="#ch" transform="translate(250.5 910.8)"/>
<use href="#mo" transform="translate(250.5 910.8) translate(0 11.0)"/>
<use href="#ch" transform="translate(250.5 941.8) rotate(180)"/>
<use href="#mo" transform="translate(250.5 941.8) rotate(180) translate(0 11.0)"/>
<use href="#ch" transform="translate(290.3 910.8)"/>
<use href="#mo" transform="translate(290.3 910.8) translate(0 11.0)"/>
<use href="#ch" transform="translate(290.3 941.8) rotate(180)"/>
<use href="#mo" transform="translate(290.3 941.8) rotate(180) translate(0 11.0)"/>
<use href="#ch" transform="translate(317.7 910.8)"/>
<use href="#mo" transform="translate(317.7 910.8) translate(0 11.0)"/>
<use href="#ch" transform="translate(317.7 941.8) rotate(180)"/>
<use href="#mo" transform="translate(317.7 941.8) rotate(180) translate(0 11.0)"/>
<use href="#ch" transform="translate(357.5 910.8)"/>
<use href="#mo" transform="translate(357.5 910.8) translate(0 11.0)"/>
<use href="#ch" transform="translate(357.5 941.8) rotate(180)"/>
<use href="#mo" transform="translate(357.5 941.8) rotate(180) translate(0 11.0)"/>
<use href="#ch" transform="translate(384.5 910.8)"/>
<use href="#mo" transform="translate(384.5 910.8) translate(0 11.0)"/>
<use href="#ch" transform="translate(384.5 941.8) rotate(180)"/>
<use href="#mo" transform="translate(384.5 941.8) rotate(180) translate(0 11.0)"/>
<use href="#ch" transform="translate(424.4 910.8)"/>
<use href="#mo" transform="translate(424.4 910.8) translate(0 11.0)"/>
<use href="#ch" transform="translate(424.4 941.8) rotate(180)"/>
<use href="#mo" transform="translate(424.4 941.8) rotate(180) translate(0 11.0)"/>
<use href="#ch" transform="translate(451.6 910.8)"/>
<use href="#mo" transform="translate(451.6 910.8) translate(0 11.0)"/>
<use href="#ch" transform="translate(451.6 941.8) rotate(180)"/>
<use href="#mo" transform="translate(451.6 941.8) rotate(180) translate(0 11.0)"/>
<use href="#ch" transform="translate(230.4 1008.5) rotate(90)"/>
<use href="#mo" transform="translate(230.4 1008.5) rotate(90) translate(0 11.5)"/>
<use href="#ch" transform="translate(266.5 1008.5) rotate(270)"/>
<use href="#mo" transform="translate(266.5 1008.5) rotate(270) translate(0 12.0)"/>
<use href="#ch" transform="translate(301.5 1008.5) rotate(90)"/>
<use href="#mo" transform="translate(301.5 1008.5) rotate(90) translate(0 12.0)"/>
<use href="#ch" transform="translate(230.4 1036.2) rotate(90)"/>
<use href="#mo" transform="translate(230.4 1036.2) rotate(90) translate(0 11.5)"/>
<use href="#ch" transform="translate(266.5 1036.2) rotate(270)"/>
<use href="#mo" transform="translate(266.5 1036.2) rotate(270) translate(0 12.0)"/>
<use href="#ch" transform="translate(301.5 1036.2) rotate(90)"/>
<use href="#mo" transform="translate(301.5 1036.2) rotate(90) translate(0 12.0)"/>
<use href="#ch" transform="translate(113.3 1106.5)"/>
<use href="#mo" transform="translate(113.3 1106.5) translate(0 11.5)"/>
<use href="#ch" transform="translate(140.5 1106.5)"/>
<use href="#mo" transform="translate(140.5 1106.5) translate(0 11.5)"/>
<use href="#ch" transform="translate(181.3 1106.5)"/>
<use href="#mo" transform="translate(181.3 1106.5) translate(0 11.5)"/>
<use href="#ch" transform="translate(208.5 1106.5)"/>
<use href="#mo" transform="translate(208.5 1106.5) translate(0 11.5)"/>
<use href="#ch" transform="translate(107.0 1158.0)"/>
<use href="#mo" transform="translate(107.0 1158.0) translate(0 11.5)"/>
<use href="#ch" transform="translate(133.4 1158.0)"/>
<use href="#mo" transform="translate(133.4 1158.0) translate(0 11.5)"/>
<use href="#ch" transform="translate(368.5 1021.1) rotate(90)"/>
<use href="#mo" transform="translate(368.5 1021.1) rotate(90) translate(0 11.5)"/>
<use href="#ch" transform="translate(436.7 1021.1) rotate(270)"/>
<use href="#mo" transform="translate(436.7 1021.1) rotate(270) translate(0 11.5)"/>
<use href="#ch" transform="translate(368.5 1048.1) rotate(90)"/>
<use href="#mo" transform="translate(368.5 1048.1) rotate(90) translate(0 11.5)"/>
<use href="#ch" transform="translate(436.7 1048.1) rotate(270)"/>
<use href="#mo" transform="translate(436.7 1048.1) rotate(270) translate(0 11.5)"/>
<use href="#ch" transform="translate(368.5 1088.4) rotate(90)"/>
<use href="#mo" transform="translate(368.5 1088.4) rotate(90) translate(0 11.5)"/>
<use href="#ch" transform="translate(436.7 1088.4) rotate(270)"/>
<use href="#mo" transform="translate(436.7 1088.4) rotate(270) translate(0 11.5)"/>
<use href="#ch" transform="translate(368.5 1115.3) rotate(90)"/>
<use href="#mo" transform="translate(368.5 1115.3) rotate(90) translate(0 11.5)"/>
<use href="#ch" transform="translate(436.7 1115.3) rotate(270)"/>
<use href="#mo" transform="translate(436.7 1115.3) rotate(270) translate(0 11.5)"/>
<use href="#ch" transform="translate(526.6 932.4)"/>
<use href="#mo" transform="translate(526.6 932.4) translate(0 11.0)"/>
<use href="#ch" transform="translate(526.6 962.4) rotate(180)"/>
<use href="#mo" transform="translate(526.6 962.4) rotate(180) translate(0 11.0)"/>
<use href="#ch" transform="translate(553.6 932.4)"/>
<use href="#mo" transform="translate(553.6 932.4) translate(0 11.0)"/>
<use href="#ch" transform="translate(553.6 962.4) rotate(180)"/>
<use href="#mo" transform="translate(553.6 962.4) rotate(180) translate(0 11.0)"/>
<use href="#ch" transform="translate(526.6 1023.0)"/>
<use href="#mo" transform="translate(526.6 1023.0) translate(0 11.0)"/>
<use href="#ch" transform="translate(526.6 1053.0) rotate(180)"/>
<use href="#mo" transform="translate(526.6 1053.0) rotate(180) translate(0 11.0)"/>
<use href="#ch" transform="translate(553.6 1023.0)"/>
<use href="#mo" transform="translate(553.6 1023.0) translate(0 11.0)"/>
<use href="#ch" transform="translate(553.6 1053.0) rotate(180)"/>
<use href="#mo" transform="translate(553.6 1053.0) rotate(180) translate(0 11.0)"/>
<use href="#ch" transform="translate(601.4 1062.5) rotate(180)"/>
<use href="#mo" transform="translate(601.4 1062.5) rotate(180) translate(0 12.0)"/>
<use href="#ch" transform="translate(646.7 1062.5) rotate(180)"/>
<use href="#mo" transform="translate(646.7 1062.5) rotate(180) translate(0 12.0)"/>
<use href="#ch" transform="translate(673.2 1062.5) rotate(180)"/>
<use href="#mo" transform="translate(673.2 1062.5) rotate(180) translate(0 12.0)"/>
<use href="#ch" transform="translate(626.6 1115.0) rotate(180)"/>
<use href="#mo" transform="translate(626.6 1115.0) rotate(180) translate(0 11.5)"/>
<use href="#ch" transform="translate(678.2 1118.0)"/>
<use href="#mo" transform="translate(678.2 1118.0) translate(0 12.0)"/>
<use href="#ch" transform="translate(820.0 968.8) rotate(90)"/>
<use href="#mo" transform="translate(820.0 968.8) rotate(90) translate(0 11.0)"/>
<use href="#ch" transform="translate(820.0 993.9) rotate(90)"/>
<use href="#mo" transform="translate(820.0 993.9) rotate(90) translate(0 11.0)"/>
<use href="#ch" transform="translate(820.0 1019.1) rotate(90)"/>
<use href="#mo" transform="translate(820.0 1019.1) rotate(90) translate(0 11.0)"/>
<use href="#ch" transform="translate(594.7 839.1) rotate(135)"/>
<use href="#mo" transform="translate(594.7 839.1) rotate(135) translate(0 11.0)"/>
<use href="#ch" transform="translate(575.8 858.0) rotate(135)"/>
<use href="#mo" transform="translate(575.8 858.0) rotate(135) translate(0 11.0)"/>
<use href="#ch" transform="translate(627.3 878.2) rotate(-45)"/>
<use href="#mo" transform="translate(627.3 878.2) rotate(-45) translate(0 12.0)"/>
<use href="#ch" transform="translate(894.4 977.6)"/>
<use href="#mo" transform="translate(894.4 977.6) translate(0 11.5)"/>
<use href="#ch" transform="translate(894.4 1011.6) rotate(180)"/>
<use href="#mo" transform="translate(894.4 1011.6) rotate(180) translate(0 11.5)"/>
<use href="#ch" transform="translate(919.6 977.6)"/>
<use href="#mo" transform="translate(919.6 977.6) translate(0 11.5)"/>
<use href="#ch" transform="translate(919.6 1011.6) rotate(180)"/>
<use href="#mo" transform="translate(919.6 1011.6) rotate(180) translate(0 11.5)"/>
<use href="#ch" transform="translate(945.3 977.6)"/>
<use href="#mo" transform="translate(945.3 977.6) translate(0 11.5)"/>
<use href="#ch" transform="translate(945.3 1011.6) rotate(180)"/>
<use href="#mo" transform="translate(945.3 1011.6) rotate(180) translate(0 11.5)"/>
<use href="#ch" transform="translate(971.2 977.6)"/>
<use href="#mo" transform="translate(971.2 977.6) translate(0 11.5)"/>
<use href="#ch" transform="translate(971.2 1011.6) rotate(180)"/>
<use href="#mo" transform="translate(971.2 1011.6) rotate(180) translate(0 11.5)"/>
<use href="#ch" transform="translate(894.4 1054.4)"/>
<use href="#mo" transform="translate(894.4 1054.4) translate(0 11.5)"/>
<use href="#ch" transform="translate(894.4 1088.4) rotate(180)"/>
<use href="#mo" transform="translate(894.4 1088.4) rotate(180) translate(0 11.5)"/>
<use href="#ch" transform="translate(919.6 1054.4)"/>
<use href="#mo" transform="translate(919.6 1054.4) translate(0 11.5)"/>
<use href="#ch" transform="translate(919.6 1088.4) rotate(180)"/>
<use href="#mo" transform="translate(919.6 1088.4) rotate(180) translate(0 11.5)"/>
<use href="#ch" transform="translate(945.3 1054.4)"/>
<use href="#mo" transform="translate(945.3 1054.4) translate(0 11.5)"/>
<use href="#ch" transform="translate(945.3 1088.4) rotate(180)"/>
<use href="#mo" transform="translate(945.3 1088.4) rotate(180) translate(0 11.5)"/>
<use href="#ch" transform="translate(971.2 1054.4)"/>
<use href="#mo" transform="translate(971.2 1054.4) translate(0 11.5)"/>
<use href="#ch" transform="translate(971.2 1088.4) rotate(180)"/>
<use href="#mo" transform="translate(971.2 1088.4) rotate(180) translate(0 11.5)"/>
<use href="#ch" transform="translate(1089.6 947.0) rotate(270)"/>
<use href="#mo" transform="translate(1089.6 947.0) rotate(270) translate(0 11.5)"/>
<use href="#ch" transform="translate(1121.2 947.0) rotate(90)"/>
<use href="#mo" transform="translate(1121.2 947.0) rotate(90) translate(0 11.5)"/>
<use href="#ch" transform="translate(1089.6 980.6) rotate(270)"/>
<use href="#mo" transform="translate(1089.6 980.6) rotate(270) translate(0 11.5)"/>
<use href="#ch" transform="translate(1121.2 980.6) rotate(90)"/>
<use href="#mo" transform="translate(1121.2 980.6) rotate(90) translate(0 11.5)"/>
<use href="#ch" transform="translate(1152.6 947.0) rotate(270)"/>
<use href="#mo" transform="translate(1152.6 947.0) rotate(270) translate(0 11.5)"/>
<use href="#ch" transform="translate(1184.2 947.0) rotate(90)"/>
<use href="#mo" transform="translate(1184.2 947.0) rotate(90) translate(0 11.5)"/>
<use href="#ch" transform="translate(1152.6 980.6) rotate(270)"/>
<use href="#mo" transform="translate(1152.6 980.6) rotate(270) translate(0 11.5)"/>
<use href="#ch" transform="translate(1184.2 980.6) rotate(90)"/>
<use href="#mo" transform="translate(1184.2 980.6) rotate(90) translate(0 11.5)"/>
<use href="#ch" transform="translate(1059.8 947.0) rotate(90)"/>
<use href="#mo" transform="translate(1059.8 947.0) rotate(90) translate(0 11.5)"/>
<use href="#ch" transform="translate(1059.8 980.6) rotate(90)"/>
<use href="#mo" transform="translate(1059.8 980.6) rotate(90) translate(0 11.5)"/>
<use href="#ch" transform="translate(1215.4 947.0) rotate(270)"/>
<use href="#mo" transform="translate(1215.4 947.0) rotate(270) translate(0 11.5)"/>
<use href="#ch" transform="translate(1215.4 980.6) rotate(270)"/>
<use href="#mo" transform="translate(1215.4 980.6) rotate(270) translate(0 11.5)"/>
<use href="#ch" transform="translate(1035.2 1050.2) rotate(270)"/>
<use href="#mo" transform="translate(1035.2 1050.2) rotate(270) translate(0 11.5)"/>
<use href="#ch" transform="translate(1066.8 1050.2) rotate(90)"/>
<use href="#mo" transform="translate(1066.8 1050.2) rotate(90) translate(0 11.5)"/>
<use href="#ch" transform="translate(1035.2 1083.6) rotate(270)"/>
<use href="#mo" transform="translate(1035.2 1083.6) rotate(270) translate(0 11.5)"/>
<use href="#ch" transform="translate(1066.8 1083.6) rotate(90)"/>
<use href="#mo" transform="translate(1066.8 1083.6) rotate(90) translate(0 11.5)"/>
<use href="#ch" transform="translate(1098.4 1050.2) rotate(270)"/>
<use href="#mo" transform="translate(1098.4 1050.2) rotate(270) translate(0 11.5)"/>
<use href="#ch" transform="translate(1130.0 1050.2) rotate(90)"/>
<use href="#mo" transform="translate(1130.0 1050.2) rotate(90) translate(0 11.5)"/>
<use href="#ch" transform="translate(1098.4 1083.6) rotate(270)"/>
<use href="#mo" transform="translate(1098.4 1083.6) rotate(270) translate(0 11.5)"/>
<use href="#ch" transform="translate(1130.0 1083.6) rotate(90)"/>
<use href="#mo" transform="translate(1130.0 1083.6) rotate(90) translate(0 11.5)"/>
<use href="#ch" transform="translate(1161.7 1050.2) rotate(270)"/>
<use href="#mo" transform="translate(1161.7 1050.2) rotate(270) translate(0 11.5)"/>
<use href="#ch" transform="translate(1193.3 1050.2) rotate(90)"/>
<use href="#mo" transform="translate(1193.3 1050.2) rotate(90) translate(0 11.5)"/>
<use href="#ch" transform="translate(1161.7 1083.6) rotate(270)"/>
<use href="#mo" transform="translate(1161.7 1083.6) rotate(270) translate(0 11.5)"/>
<use href="#ch" transform="translate(1193.3 1083.6) rotate(90)"/>
<use href="#mo" transform="translate(1193.3 1083.6) rotate(90) translate(0 11.5)"/>
<use href="#ch" transform="translate(1003.8 1050.2) rotate(90)"/>
<use href="#mo" transform="translate(1003.8 1050.2) rotate(90) translate(0 11.5)"/>
<use href="#ch" transform="translate(1003.8 1083.6) rotate(90)"/>
<use href="#mo" transform="translate(1003.8 1083.6) rotate(90) translate(0 11.5)"/>
<use href="#ch" transform="translate(1223.9 1050.2) rotate(270)"/>
<use href="#mo" transform="translate(1223.9 1050.2) rotate(270) translate(0 11.5)"/>
<use href="#ch" transform="translate(1223.9 1083.6) rotate(270)"/>
<use href="#mo" transform="translate(1223.9 1083.6) rotate(270) translate(0 11.5)"/>
<use href="#ch" transform="translate(1331.5 947.0) rotate(270)"/>
<use href="#mo" transform="translate(1331.5 947.0) rotate(270) translate(0 11.5)"/>
<use href="#ch" transform="translate(1363.1 947.0) rotate(90)"/>
<use href="#mo" transform="translate(1363.1 947.0) rotate(90) translate(0 11.5)"/>
<use href="#ch" transform="translate(1331.5 980.6) rotate(270)"/>
<use href="#mo" transform="translate(1331.5 980.6) rotate(270) translate(0 11.5)"/>
<use href="#ch" transform="translate(1363.1 980.6) rotate(90)"/>
<use href="#mo" transform="translate(1363.1 980.6) rotate(90) translate(0 11.5)"/>
<use href="#ch" transform="translate(1394.4 947.0) rotate(270)"/>
<use href="#mo" transform="translate(1394.4 947.0) rotate(270) translate(0 11.5)"/>
<use href="#ch" transform="translate(1426.0 947.0) rotate(90)"/>
<use href="#mo" transform="translate(1426.0 947.0) rotate(90) translate(0 11.5)"/>
<use href="#ch" transform="translate(1394.4 980.6) rotate(270)"/>
<use href="#mo" transform="translate(1394.4 980.6) rotate(270) translate(0 11.5)"/>
<use href="#ch" transform="translate(1426.0 980.6) rotate(90)"/>
<use href="#mo" transform="translate(1426.0 980.6) rotate(90) translate(0 11.5)"/>
<use href="#ch" transform="translate(1457.4 947.0) rotate(270)"/>
<use href="#mo" transform="translate(1457.4 947.0) rotate(270) translate(0 11.5)"/>
<use href="#ch" transform="translate(1489.0 947.0) rotate(90)"/>
<use href="#mo" transform="translate(1489.0 947.0) rotate(90) translate(0 11.5)"/>
<use href="#ch" transform="translate(1457.4 980.6) rotate(270)"/>
<use href="#mo" transform="translate(1457.4 980.6) rotate(270) translate(0 11.5)"/>
<use href="#ch" transform="translate(1489.0 980.6) rotate(90)"/>
<use href="#mo" transform="translate(1489.0 980.6) rotate(90) translate(0 11.5)"/>
<use href="#ch" transform="translate(1299.9 947.0) rotate(90)"/>
<use href="#mo" transform="translate(1299.9 947.0) rotate(90) translate(0 11.5)"/>
<use href="#ch" transform="translate(1299.9 980.6) rotate(90)"/>
<use href="#mo" transform="translate(1299.9 980.6) rotate(90) translate(0 11.5)"/>
<use href="#ch" transform="translate(1520.3 947.0) rotate(270)"/>
<use href="#mo" transform="translate(1520.3 947.0) rotate(270) translate(0 11.5)"/>
<use href="#ch" transform="translate(1551.9 947.0) rotate(90)"/>
<use href="#mo" transform="translate(1551.9 947.0) rotate(90) translate(0 11.5)"/>
<use href="#ch" transform="translate(1520.3 980.6) rotate(270)"/>
<use href="#mo" transform="translate(1520.3 980.6) rotate(270) translate(0 11.5)"/>
<use href="#ch" transform="translate(1551.9 980.6) rotate(90)"/>
<use href="#mo" transform="translate(1551.9 980.6) rotate(90) translate(0 11.5)"/>
<use href="#ch" transform="translate(1342.5 1046.2) rotate(270)"/>
<use href="#mo" transform="translate(1342.5 1046.2) rotate(270) translate(0 11.5)"/>
<use href="#ch" transform="translate(1374.1 1046.2) rotate(90)"/>
<use href="#mo" transform="translate(1374.1 1046.2) rotate(90) translate(0 11.5)"/>
<use href="#ch" transform="translate(1342.5 1080.0) rotate(270)"/>
<use href="#mo" transform="translate(1342.5 1080.0) rotate(270) translate(0 11.5)"/>
<use href="#ch" transform="translate(1374.1 1080.0) rotate(90)"/>
<use href="#mo" transform="translate(1374.1 1080.0) rotate(90) translate(0 11.5)"/>
<use href="#ch" transform="translate(1405.7 1046.2) rotate(270)"/>
<use href="#mo" transform="translate(1405.7 1046.2) rotate(270) translate(0 11.5)"/>
<use href="#ch" transform="translate(1437.3 1046.2) rotate(90)"/>
<use href="#mo" transform="translate(1437.3 1046.2) rotate(90) translate(0 11.5)"/>
<use href="#ch" transform="translate(1405.7 1080.0) rotate(270)"/>
<use href="#mo" transform="translate(1405.7 1080.0) rotate(270) translate(0 11.5)"/>
<use href="#ch" transform="translate(1437.3 1080.0) rotate(90)"/>
<use href="#mo" transform="translate(1437.3 1080.0) rotate(90) translate(0 11.5)"/>
<use href="#ch" transform="translate(1468.7 1046.2) rotate(270)"/>
<use href="#mo" transform="translate(1468.7 1046.2) rotate(270) translate(0 11.5)"/>
<use href="#ch" transform="translate(1500.3 1046.2) rotate(90)"/>
<use href="#mo" transform="translate(1500.3 1046.2) rotate(90) translate(0 11.5)"/>
<use href="#ch" transform="translate(1468.7 1080.0) rotate(270)"/>
<use href="#mo" transform="translate(1468.7 1080.0) rotate(270) translate(0 11.5)"/>
<use href="#ch" transform="translate(1500.3 1080.0) rotate(90)"/>
<use href="#mo" transform="translate(1500.3 1080.0) rotate(90) translate(0 11.5)"/>
<use href="#ch" transform="translate(1312.1 1046.2) rotate(90)"/>
<use href="#mo" transform="translate(1312.1 1046.2) rotate(90) translate(0 11.5)"/>
<use href="#ch" transform="translate(1312.1 1080.0) rotate(90)"/>
<use href="#mo" transform="translate(1312.1 1080.0) rotate(90) translate(0 11.5)"/>
<use href="#ch" transform="translate(1533.5 1051.3) rotate(90)"/>
<use href="#mo" transform="translate(1533.5 1051.3) rotate(90) translate(0 11.5)"/>
<use href="#ch" transform="translate(1445.0 1146.3) rotate(270)"/>
<use href="#mo" transform="translate(1445.0 1146.3) rotate(270) translate(0 11.5)"/>
<use href="#ch" transform="translate(1476.5 1146.3) rotate(90)"/>
<use href="#mo" transform="translate(1476.5 1146.3) rotate(90) translate(0 11.5)"/>
<use href="#ch" transform="translate(1507.9 1146.3) rotate(270)"/>
<use href="#mo" transform="translate(1507.9 1146.3) rotate(270) translate(0 11.5)"/>
<use href="#ch" transform="translate(1445.0 1179.8) rotate(270)"/>
<use href="#mo" transform="translate(1445.0 1179.8) rotate(270) translate(0 11.5)"/>
<use href="#ch" transform="translate(1476.5 1179.8) rotate(90)"/>
<use href="#mo" transform="translate(1476.5 1179.8) rotate(90) translate(0 11.5)"/>
<use href="#ch" transform="translate(1507.9 1179.8) rotate(270)"/>
<use href="#mo" transform="translate(1507.9 1179.8) rotate(270) translate(0 11.5)"/>
<use href="#ch" transform="translate(1609.4 917.0) rotate(180)"/>
<use href="#mo" transform="translate(1609.4 917.0) rotate(180) translate(0 12.0)"/>
<use href="#ch" transform="translate(1360.7 1157.0)"/>
<use href="#mo" transform="translate(1360.7 1157.0) translate(0 12.0)"/>
<g fill="none" stroke="#000" stroke-linecap="butt" stroke-linejoin="miter">
<path stroke-width="1" d="M19.6 1915.2 L154.1 1546.4 L1672.8 1546.4 L1518.7 1969.4 L1275.0 1969.4 M19.6 1915.2 L80.6 1915.2 M52.9 1885.8 A18.2 18.2 0 0 0 50.4 1911.4 L65.5 1898.9 M65.5 1898.9 L80.6 1914.7 M206.5 1611.8 L206.5 1630.7 M206.5 1612.5 A18.2 18.2 0 0 1 222.8 1630.7 M265.6 1611.8 L265.6 1630.7 M265.6 1612.5 A18.2 18.2 0 0 1 282.0 1630.7 M321.8 1611.8 L321.8 1630.7 M321.8 1612.5 A18.2 18.2 0 0 1 338.6 1630.7 M376.4 1611.8 L376.4 1630.7 M376.4 1612.5 A18.2 18.2 0 0 1 394.0 1630.7 M431.5 1611.8 L431.5 1630.7 M431.5 1612.5 A18.2 18.2 0 0 1 449.1 1630.7 M488.6 1611.8 L488.6 1630.7 M488.6 1612.5 A18.2 18.2 0 0 1 505.7 1630.7 M572.5 1630.7 L582.5 1642.0 M582.5 1642.0 A14.0 14.0 0 0 1 608.5 1640.8 M527.5 1590.4 L553.5 1590.4 M534.5 1590.4 L540.5 1597.0 L546.5 1590.4 M637.8 1590.4 L663.8 1590.4 M644.8 1590.4 L650.8 1597.0 L656.8 1590.4 M748.0 1590.4 L774.0 1590.4 M755.0 1590.4 L761.0 1597.0 L767.0 1590.4 M858.2 1590.4 L884.2 1590.4 M865.2 1590.4 L871.2 1597.0 L877.2 1590.4 M968.5 1590.4 L994.5 1590.4 M975.5 1590.4 L981.5 1597.0 L987.5 1590.4 M1078.8 1590.4 L1104.8 1590.4 M1085.8 1590.4 L1091.8 1597.0 L1097.8 1590.4 M1189.0 1590.4 L1215.0 1590.4 M1196.0 1590.4 L1202.0 1597.0 L1208.0 1590.4 M1299.2 1590.4 L1325.2 1590.4 M1306.2 1590.4 L1312.2 1597.0 L1318.2 1590.4 M689.5 1643.3 A14.0 14.0 0 0 1 716.0 1642.0 M857.0 1614.0 A16.0 16.0 0 0 1 857.0 1592.5 M886.0 1592.5 A16.0 16.0 0 0 1 886.0 1614.0 M951.1 1638.3 L964.9 1625.7 M964.9 1625.7 A16.0 16.0 0 0 1 964.9 1653.4 M964.9 1653.4 L975.0 1662.2 M1092.1 1677.3 A17.6 17.6 0 0 0 1074.4 1694.9 L1092.1 1694.9 M1181.4 1638.8 A17.7 17.7 0 0 1 1199.1 1619.4 L1199.1 1638.8 M1292.1 1638.8 A17.4 17.4 0 0 1 1309.5 1619.4 L1309.5 1638.8 M1404.7 1638.8 A17.8 17.8 0 0 1 1422.5 1619.4 L1422.5 1638.8 M1447.5 1638.8 A19.0 19.0 0 0 0 1428.5 1619.4 L1428.5 1638.8 M1622.0 1566.5 A13.5 13.5 0 0 1 1647.6 1565.2 M1647.6 1565.2 L1634.5 1579.1 M200.5 1639.0 A14.0 14.0 0 0 0 176.0 1648.0 M186.0 1679.0 A16.0 16.0 0 0 1 172.5 1656.0 M150.6 1773.7 A14.0 14.0 0 0 0 126.0 1783.0 M137.0 1814.0 A16.0 16.0 0 0 1 123.0 1793.0 M147.3 1843.5 L147.3 1862.4 M128.4 1843.5 A18.9 18.9 0 0 0 147.3 1862.4 M168.7 1791.8 L187.6 1799.4 M187.6 1799.4 A19.0 19.0 0 0 1 163.7 1810.7 M272.4 1889.0 A18.7 18.7 0 0 0 253.0 1907.7 L272.4 1907.7 M272.4 1907.7 L272.4 1915.2 M178.8 1864.9 L178.8 1888.8 M184.8 1864.9 L184.8 1888.8 M190.9 1864.9 L190.9 1888.8 M196.9 1864.9 L196.9 1888.8 M203.0 1864.9 L203.0 1888.8 M209.0 1864.9 L209.0 1888.8 M178.8 1889.5 L178.8 1914.0 M184.9 1889.5 L184.9 1914.0 M190.9 1889.5 L190.9 1914.0 M197.0 1889.5 L197.0 1914.0 M203.1 1889.5 L203.1 1914.0 M209.1 1889.5 L209.1 1914.0 M215.2 1889.5 L215.2 1914.0 M221.2 1889.5 L221.2 1914.0 M227.3 1889.5 L227.3 1914.0 M233.4 1889.5 L233.4 1914.0 M239.4 1889.5 L239.4 1914.0 M245.5 1889.5 L245.5 1914.0 M178.8 1889.5 L245.5 1889.5 M209.7 1863.6 L224.1 1891.8 M297.5 1809.5 A17.7 17.7 0 0 0 316.7 1791.8 M273.9 1893.8 A20.1 20.1 0 0 0 293.3 1875.0 M508.3 1803.2 A20.1 20.1 0 0 0 528.4 1822.1 L528.4 1803.2 M530.9 1873.7 L530.9 1893.8 M530.9 1893.8 A18.8 18.8 0 0 0 549.8 1875.0 M552.3 1824.6 A18.1 18.1 0 0 0 571.2 1807.0 M628.6 1804.0 A16.9 16.9 0 0 0 645.5 1823.3 M663.1 1790.6 L663.1 1827.1 L651.0 1827.1 M690.8 1790.6 L690.8 1827.1 L703.4 1827.1 M755.0 1851.0 L776.4 1873.7 M761.3 1808.2 A19.2 19.2 0 0 0 778.9 1789.3 M978.8 1875.0 L978.8 1893.8 M978.8 1893.8 A18.8 18.8 0 0 0 996.4 1875.0 M1071.9 1875.0 A17.6 17.6 0 0 0 1089.5 1893.8 L1089.5 1875.0 M1102.1 1856.0 A17.7 17.7 0 0 1 1119.8 1873.7 M592.6 1685.6 A17.6 17.6 0 0 0 610.2 1705.0 M636.2 1685.6 A18.2 18.2 0 0 1 618.0 1705.0 M700.9 1685.6 A18.9 18.9 0 0 0 719.8 1705.0 M1167.7 1664.9 A17.6 17.6 0 0 0 1185.3 1684.0 L1185.3 1664.9 M1239.3 1664.9 A17.6 17.6 0 0 0 1256.9 1684.0 L1256.9 1664.9 M1310.8 1664.9 A17.6 17.6 0 0 0 1328.4 1684.0 L1328.4 1664.9 M1382.4 1664.9 A17.6 17.6 0 0 0 1400.0 1684.0 L1400.0 1664.9 M1461.5 1664.9 A17.6 17.6 0 0 0 1479.1 1684.0 L1479.1 1664.9 M1402.8 1757.3 A17.8 17.8 0 0 1 1422.3 1775.1 L1402.8 1775.1 M1402.8 1775.1 L1402.8 1779.8 M1338.2 1853.3 A17.3 17.3 0 0 1 1320.9 1871.0 M1398.1 1807.0 L1398.1 1826.0 M1398.1 1826.0 A19.0 19.0 0 0 0 1416.4 1807.0 M1416.4 1807.0 L1430.6 1807.0 M1430.6 1807.0 A17.7 17.7 0 0 0 1448.3 1826.0 M1448.3 1807.0 L1448.3 1826.0 M1448.3 1807.0 L1464.9 1807.0 M1311.5 1892.6 A17.6 17.6 0 0 1 1330.9 1910.2 L1311.5 1910.2 M1293.9 1915.2 A18.9 18.9 0 0 1 1275.0 1934.0 M1536.9 1608.1 A18.0 18.0 0 0 1 1557.5 1593.0 M1536.9 1674.8 A17.0 17.0 0 0 1 1549.0 1698.5 M1502.9 1710.0 A17.0 17.0 0 0 0 1527.0 1698.0 M1478.9 1770.4 A17.0 17.0 0 0 0 1504.0 1760.0 M1341.7 1916.5 L1341.7 1942.9 M1347.7 1916.5 L1347.7 1942.9 M1353.8 1916.5 L1353.8 1942.9 M1359.8 1916.5 L1359.8 1942.9 M1365.9 1916.5 L1365.9 1942.9 M1371.9 1916.5 L1371.9 1942.9 M1305.2 1942.9 L1305.2 1966.8 M1311.3 1942.9 L1311.3 1966.8 M1317.3 1942.9 L1317.3 1966.8 M1323.4 1942.9 L1323.4 1966.8 M1329.5 1942.9 L1329.5 1966.8 M1335.5 1942.9 L1335.5 1966.8 M1341.6 1942.9 L1341.6 1966.8 M1347.6 1942.9 L1347.6 1966.8 M1353.7 1942.9 L1353.7 1966.8 M1359.8 1942.9 L1359.8 1966.8 M1365.8 1942.9 L1365.8 1966.8 M1371.9 1942.9 L1371.9 1966.8 M1305.2 1942.9 L1371.9 1942.9 M1341.0 1915.2 L1326.6 1944.2 M1419.8 1939.9 A17.6 17.6 0 0 0 1437.4 1958.0 L1437.4 1939.9 M573.7 1906.9 L573.7 1915.2 L643.7 1987.0 L699.6 1987.0 L699.6 1975.7 M573.7 1906.9 L581.2 1906.9 M596.4 1906.9 L815.2 1906.9 M581.2 1906.9 L590.6 1891.3 M590.6 1891.3 A15.0 15.0 0 0 1 597.6 1906.9 M600.2 1937.9 L617.0 1955.0 M605.2 1908.0 L605.2 1925.5 M605.2 1925.5 A17.5 17.5 0 0 0 622.8 1908.0 M666.4 1920.3 L698.4 1920.3 M670.7 1937.9 L698.4 1937.9 M670.7 1955.0 L698.4 1955.0 M698.4 1920.3 L698.4 1955.5 M671.0 1921.0 L677.0 1934.0 M672.0 1939.0 L677.0 1951.0 M655.0 1955.0 L669.0 1964.0 M616.5 1955.0 L651.8 1955.0 M651.8 1955.0 L651.8 1984.5 M651.8 1984.5 L698.4 1984.5 M704.7 1908.9 L875.5 1971.9 M704.7 1972.0 L816.0 1908.0 M703.4 1971.8 L876.0 1971.8 M815.2 1906.9 L830.8 1906.9 L830.8 1915.5 L846.4 1915.5 L846.4 1906.9 L921.7 1906.9 M939.9 1906.9 L967.2 1906.9 M921.7 1906.9 A18.2 18.2 0 0 0 939.9 1925.7 L939.9 1906.9 M967.2 1906.9 L891.9 1985.9 L815.2 1906.9 M841.2 1931.6 L889.3 1981.4 M960.7 1908.8 L893.2 1980.0 M842.5 1931.6 L860.7 1912.3 L888.0 1938.4 L869.7 1939.6 M869.7 1916.9 L878.9 1908.8 L898.4 1928.9 L885.4 1929.8 M894.4 1911.4 L899.7 1908.3 L906.2 1916.9 L914.0 1908.3 M923.1 1930.3 L930.9 1937.0 L899.7 1969.2 L891.9 1962.5 L923.1 1930.3 M926.4 1934.0 L896.4 1965.1 M893.2 1962.5 L884.0 1971.9 L890.6 1978.7"/>
<path stroke-width="3.7" stroke-linecap="square" d="M207.7 1548.1 L485.6 1548.1 M1367.7 1548.1 L1603.6 1548.1 M143.5 1576.6 L207.7 1548.1 M36.5 1871.2 L52.9 1885.8 M195.1 1553.9 L202.7 1565.2 L202.7 1630.7 M261.9 1548.9 L261.9 1630.7 M318.5 1548.9 L318.5 1630.7 M372.6 1548.9 L372.6 1630.7 M429.0 1548.9 L429.0 1630.7 M485.1 1548.9 L485.1 1630.7 M222.8 1630.7 L261.9 1630.7 M282.0 1630.7 L318.5 1630.7 M338.6 1630.7 L372.6 1630.7 M394.0 1630.7 L429.0 1630.7 M449.1 1630.7 L486.9 1630.7 M505.7 1630.7 L572.5 1630.7 M485.6 1548.9 L540.5 1603.5 L595.1 1547.8 L650.8 1603.5 L705.4 1547.8 L761.0 1603.5 L815.7 1547.8 L871.2 1603.5 L926.0 1547.8 L981.5 1603.5 L1036.3 1547.8 L1091.8 1603.5 L1146.6 1547.8 L1202.0 1603.5 L1256.9 1547.8 L1312.2 1603.5 L1367.7 1548.1 M540.5 1603.5 L540.5 1630.7 M650.8 1603.5 L689.5 1643.3 M650.8 1603.5 L597.0 1657.0 M761.0 1603.5 L706.0 1658.0 M761.0 1603.5 L802.9 1645.8 M802.9 1646.3 L830.2 1646.3 M830.2 1646.3 L854.1 1619.4 M886.9 1618.1 L912.0 1645.3 M912.0 1645.3 L941.0 1645.3 M941.0 1645.3 L981.5 1604.3 M975.5 1660.7 L975.5 1762.9 M850.4 1762.6 L975.5 1762.6 M975.5 1698.2 L1092.1 1698.2 M1091.8 1604.3 L1091.8 1677.3 M1091.8 1694.9 L1091.8 1873.7 M1093.3 1638.8 L1181.4 1638.8 M1202.0 1604.3 L1202.0 1638.8 M1202.0 1638.8 L1292.1 1638.8 M1312.2 1603.5 L1312.2 1638.8 M1314.0 1638.8 L1404.7 1638.8 M1425.3 1548.9 L1425.3 1639.5 M1447.5 1638.8 L1523.0 1638.8 M1523.0 1638.8 L1553.2 1557.7 L1559.5 1557.7 L1562.0 1548.9 M1603.6 1548.1 L1622.0 1566.5 M1634.5 1579.1 L1652.7 1597.5 M123.4 1633.2 L193.9 1658.4 M185.8 1678.6 L150.6 1773.7 M102.0 1693.7 L173.7 1716.3 M75.5 1765.4 L144.8 1794.4 M136.0 1814.5 L123.4 1853.5 M52.9 1828.4 L123.4 1853.5 M163.7 1810.7 L152.3 1835.9 L152.3 1915.2 M168.7 1790.6 L271.9 1790.6 M271.9 1790.6 L271.9 1862.4 M152.3 1862.6 L271.9 1862.6 M272.4 1863.6 L272.4 1892.6 M296.6 1790.6 L296.6 1809.5 M316.7 1790.6 L528.4 1790.6 M407.9 1791.0 L407.9 1873.7 M296.6 1809.5 L296.6 1873.7 M293.3 1873.7 L530.9 1873.7 M527.1 1822.1 L527.1 1873.7 M552.3 1824.6 L552.3 1873.7 M550.6 1803.2 L628.6 1803.2 M649.3 1788.1 L649.3 1840.9 M649.3 1861.1 L649.3 1873.7 M549.8 1873.7 L703.4 1873.7 M648.8 1788.1 L760.0 1788.1 M703.4 1790.6 L703.4 1873.7 M703.4 1851.0 L755.0 1851.0 M776.4 1873.7 L918.3 1873.7 M758.8 1788.1 L758.8 1849.8 L794.0 1849.8 M792.8 1849.8 L792.8 1873.7 M778.9 1788.1 L875.5 1788.1 M875.5 1788.1 L875.5 1873.7 M955.6 1875.0 L977.5 1875.0 M975.0 1778.0 L975.0 1873.7 M996.4 1874.5 L1071.9 1874.5 M1089.5 1874.5 L1102.1 1874.5 M1119.8 1874.5 L1311.5 1874.5 M558.6 1685.6 L558.6 1764.2 M558.6 1764.2 L721.8 1764.2 M614.5 1705.0 L614.5 1764.2 M670.7 1686.0 L670.7 1764.2 M720.8 1685.6 L720.8 1764.2 M558.6 1685.6 L592.6 1685.6 M611.0 1705.0 L611.0 1685.6 L617.5 1685.6 L617.5 1705.0 M636.2 1685.6 L700.9 1685.6 M1117.8 1664.9 L1117.8 1744.3 M1117.8 1744.3 L1402.8 1744.3 M1117.8 1664.9 L1168.7 1664.9 M1188.9 1664.9 L1240.3 1664.9 M1260.4 1664.9 L1311.6 1664.9 M1332.2 1664.9 L1383.2 1664.9 M1403.3 1664.9 L1461.4 1664.9 M1479.1 1664.9 L1484.4 1664.9 M1185.7 1664.9 L1185.7 1744.3 M1188.7 1664.9 L1188.7 1744.3 M1257.3 1664.9 L1257.3 1744.3 M1260.3 1664.9 L1260.3 1744.3 M1328.8 1664.9 L1328.8 1744.3 M1331.8 1664.9 L1331.8 1744.3 M1401.4 1664.9 L1401.4 1757.3 M1481.5 1664.9 L1481.5 1688.6 M1484.5 1664.9 L1484.5 1688.6 M1484.0 1688.6 L1447.2 1781.0 M1402.8 1721.8 L1468.5 1721.8 M1393.8 1779.8 L1447.2 1779.8 M1395.0 1779.8 L1395.0 1853.3 M1338.2 1853.3 L1395.0 1853.3 M1423.5 1808.2 L1423.5 1916.5 M1293.9 1915.2 L1423.6 1915.2 M1311.5 1873.4 L1311.5 1892.6 M1554.5 1616.9 L1620.0 1640.8 L1614.9 1655.9 L1628.8 1660.9 M1557.0 1620.6 L1536.9 1674.8 M1509.2 1688.6 L1604.8 1725.1 M1502.9 1710.0 L1486.5 1751.6 M1486.5 1751.6 L1569.6 1781.8 L1568.4 1786.8 L1580.9 1791.8 M1478.9 1770.4 L1465.1 1807.0 M1465.1 1807.0 L1553.2 1843.5 M1295.1 1915.4 L1390.8 1915.4 M1390.8 1915.4 L1390.8 1969.4 M1275.0 1968.6 L1390.8 1968.6 M600.2 1906.9 L600.2 1937.9 M703.4 1906.9 L703.4 1975.7 M967.4 1915.2 L1275.0 1915.2"/>
<path stroke="#fff" stroke-width="1.5" stroke-linecap="square" d="M207.7 1548.1 L485.6 1548.1 M1367.7 1548.1 L1603.6 1548.1 M143.5 1576.6 L207.7 1548.1 M36.5 1871.2 L52.9 1885.8 M195.1 1553.9 L202.7 1565.2 L202.7 1630.7 M261.9 1548.9 L261.9 1630.7 M318.5 1548.9 L318.5 1630.7 M372.6 1548.9 L372.6 1630.7 M429.0 1548.9 L429.0 1630.7 M485.1 1548.9 L485.1 1630.7 M222.8 1630.7 L261.9 1630.7 M282.0 1630.7 L318.5 1630.7 M338.6 1630.7 L372.6 1630.7 M394.0 1630.7 L429.0 1630.7 M449.1 1630.7 L486.9 1630.7 M505.7 1630.7 L572.5 1630.7 M485.6 1548.9 L540.5 1603.5 L595.1 1547.8 L650.8 1603.5 L705.4 1547.8 L761.0 1603.5 L815.7 1547.8 L871.2 1603.5 L926.0 1547.8 L981.5 1603.5 L1036.3 1547.8 L1091.8 1603.5 L1146.6 1547.8 L1202.0 1603.5 L1256.9 1547.8 L1312.2 1603.5 L1367.7 1548.1 M540.5 1603.5 L540.5 1630.7 M650.8 1603.5 L689.5 1643.3 M650.8 1603.5 L597.0 1657.0 M761.0 1603.5 L706.0 1658.0 M761.0 1603.5 L802.9 1645.8 M802.9 1646.3 L830.2 1646.3 M830.2 1646.3 L854.1 1619.4 M886.9 1618.1 L912.0 1645.3 M912.0 1645.3 L941.0 1645.3 M941.0 1645.3 L981.5 1604.3 M975.5 1660.7 L975.5 1762.9 M850.4 1762.6 L975.5 1762.6 M975.5 1698.2 L1092.1 1698.2 M1091.8 1604.3 L1091.8 1677.3 M1091.8 1694.9 L1091.8 1873.7 M1093.3 1638.8 L1181.4 1638.8 M1202.0 1604.3 L1202.0 1638.8 M1202.0 1638.8 L1292.1 1638.8 M1312.2 1603.5 L1312.2 1638.8 M1314.0 1638.8 L1404.7 1638.8 M1425.3 1548.9 L1425.3 1639.5 M1447.5 1638.8 L1523.0 1638.8 M1523.0 1638.8 L1553.2 1557.7 L1559.5 1557.7 L1562.0 1548.9 M1603.6 1548.1 L1622.0 1566.5 M1634.5 1579.1 L1652.7 1597.5 M123.4 1633.2 L193.9 1658.4 M185.8 1678.6 L150.6 1773.7 M102.0 1693.7 L173.7 1716.3 M75.5 1765.4 L144.8 1794.4 M136.0 1814.5 L123.4 1853.5 M52.9 1828.4 L123.4 1853.5 M163.7 1810.7 L152.3 1835.9 L152.3 1915.2 M168.7 1790.6 L271.9 1790.6 M271.9 1790.6 L271.9 1862.4 M152.3 1862.6 L271.9 1862.6 M272.4 1863.6 L272.4 1892.6 M296.6 1790.6 L296.6 1809.5 M316.7 1790.6 L528.4 1790.6 M407.9 1791.0 L407.9 1873.7 M296.6 1809.5 L296.6 1873.7 M293.3 1873.7 L530.9 1873.7 M527.1 1822.1 L527.1 1873.7 M552.3 1824.6 L552.3 1873.7 M550.6 1803.2 L628.6 1803.2 M649.3 1788.1 L649.3 1840.9 M649.3 1861.1 L649.3 1873.7 M549.8 1873.7 L703.4 1873.7 M648.8 1788.1 L760.0 1788.1 M703.4 1790.6 L703.4 1873.7 M703.4 1851.0 L755.0 1851.0 M776.4 1873.7 L918.3 1873.7 M758.8 1788.1 L758.8 1849.8 L794.0 1849.8 M792.8 1849.8 L792.8 1873.7 M778.9 1788.1 L875.5 1788.1 M875.5 1788.1 L875.5 1873.7 M955.6 1875.0 L977.5 1875.0 M975.0 1778.0 L975.0 1873.7 M996.4 1874.5 L1071.9 1874.5 M1089.5 1874.5 L1102.1 1874.5 M1119.8 1874.5 L1311.5 1874.5 M558.6 1685.6 L558.6 1764.2 M558.6 1764.2 L721.8 1764.2 M614.5 1705.0 L614.5 1764.2 M670.7 1686.0 L670.7 1764.2 M720.8 1685.6 L720.8 1764.2 M558.6 1685.6 L592.6 1685.6 M611.0 1705.0 L611.0 1685.6 L617.5 1685.6 L617.5 1705.0 M636.2 1685.6 L700.9 1685.6 M1117.8 1664.9 L1117.8 1744.3 M1117.8 1744.3 L1402.8 1744.3 M1117.8 1664.9 L1168.7 1664.9 M1188.9 1664.9 L1240.3 1664.9 M1260.4 1664.9 L1311.6 1664.9 M1332.2 1664.9 L1383.2 1664.9 M1403.3 1664.9 L1461.4 1664.9 M1479.1 1664.9 L1484.4 1664.9 M1185.7 1664.9 L1185.7 1744.3 M1188.7 1664.9 L1188.7 1744.3 M1257.3 1664.9 L1257.3 1744.3 M1260.3 1664.9 L1260.3 1744.3 M1328.8 1664.9 L1328.8 1744.3 M1331.8 1664.9 L1331.8 1744.3 M1401.4 1664.9 L1401.4 1757.3 M1481.5 1664.9 L1481.5 1688.6 M1484.5 1664.9 L1484.5 1688.6 M1484.0 1688.6 L1447.2 1781.0 M1402.8 1721.8 L1468.5 1721.8 M1393.8 1779.8 L1447.2 1779.8 M1395.0 1779.8 L1395.0 1853.3 M1338.2 1853.3 L1395.0 1853.3 M1423.5 1808.2 L1423.5 1916.5 M1293.9 1915.2 L1423.6 1915.2 M1311.5 1873.4 L1311.5 1892.6 M1554.5 1616.9 L1620.0 1640.8 L1614.9 1655.9 L1628.8 1660.9 M1557.0 1620.6 L1536.9 1674.8 M1509.2 1688.6 L1604.8 1725.1 M1502.9 1710.0 L1486.5 1751.6 M1486.5 1751.6 L1569.6 1781.8 L1568.4 1786.8 L1580.9 1791.8 M1478.9 1770.4 L1465.1 1807.0 M1465.1 1807.0 L1553.2 1843.5 M1295.1 1915.4 L1390.8 1915.4 M1390.8 1915.4 L1390.8 1969.4 M1275.0 1968.6 L1390.8 1968.6 M600.2 1906.9 L600.2 1937.9 M703.4 1906.9 L703.4 1975.7 M967.4 1915.2 L1275.0 1915.2"/>
<path stroke-width="4.6" stroke-dasharray="1.6 0.8" d="M145.3 1576.6 L38.3 1871.2 M1652.7 1596.7 L1526.8 1939.1 M596.0 1658.0 L607.0 1647.0 M705.0 1659.0 L716.0 1648.0 M180.0 1652.6 L193.9 1658.4 M126.0 1786.5 L144.8 1794.4 M1509.2 1688.6 L1547.0 1703.0 M947.4 1908.9 L940.7 1921.7"/>
</g>
<rect x="144.3" y="1589.7" width="5.0" height="5.0" fill="#fff" stroke="#000" stroke-width="1" transform="rotate(-20 146.8 1592.2)"/>
<rect x="120.4" y="1654.6" width="5.0" height="5.0" fill="#fff" stroke="#000" stroke-width="1" transform="rotate(-20 122.9 1657.1)"/>
<rect x="65.0" y="1806.5" width="5.0" height="5.0" fill="#fff" stroke="#000" stroke-width="1" transform="rotate(-20 67.5 1809.0)"/>
<rect x="49.1" y="1849.8" width="5.0" height="5.0" fill="#fff" stroke="#000" stroke-width="1" transform="rotate(-20 51.6 1852.3)"/>
<rect x="319.0" y="1551.0" width="5.0" height="14.0" fill="#fff" stroke="#000" stroke-width="1"/>
<rect x="428.0" y="1551.0" width="5.0" height="14.0" fill="#fff" stroke="#000" stroke-width="1"/>
<rect x="1420.6" y="1592.5" width="6.0" height="6.0" fill="#fff" stroke="#000" stroke-width="1"/>
<rect x="1475.4" y="1592.5" width="6.0" height="6.0" fill="#fff" stroke="#000" stroke-width="1"/>
<circle cx="871.3" cy="1655.9" r="4.5" fill="none" stroke="#000" stroke-width="1"/>
<rect x="323.0" y="1866.7" width="5.0" height="5.0" fill="#fff" stroke="#000" stroke-width="1"/>
<rect x="453.4" y="1866.2" width="4.0" height="6.0" fill="#fff" stroke="#000" stroke-width="1"/>
<rect x="709.2" y="1827.7" width="22.0" height="24.0" fill="#fff" stroke="#000" stroke-width="1"/>
<path d="M709.2 1827.7L731.2 1851.7M731.2 1827.7L709.2 1851.7" stroke="#000" fill="none"/>
<rect x="866.0" y="1790.9" width="8.0" height="17.0" fill="#fff" stroke="#000" stroke-width="1"/>
<rect x="866.0" y="1855.2" width="8.0" height="17.0" fill="#fff" stroke="#000" stroke-width="1"/>
<rect x="913.3" y="1866.9" width="5.0" height="6.0" fill="#fff" stroke="#000" stroke-width="1"/>
<rect x="955.5" y="1866.9" width="5.0" height="6.0" fill="#fff" stroke="#000" stroke-width="1"/>
<rect x="1090.5" y="1865.6" width="3.0" height="6.0" fill="#fff" stroke="#000" stroke-width="1"/>
<rect x="1422.3" y="1724.1" width="43.8" height="11.2" fill="#fff" stroke="#000" stroke-width="1"/>
<rect x="1310.3" y="1852.6" width="10.5" height="20.8" fill="#fff" stroke="#000" stroke-width="1"/>
<rect x="1553.0" y="1832.9" width="9.0" height="10.0" fill="#fff" stroke="#000" stroke-width="1" transform="rotate(22 1557.5 1837.9)"/>
<circle cx="1565.0" cy="1804.4" r="3.2" fill="none" stroke="#000" stroke-width="1"/>
<rect x="631.6" y="1908.4" width="34.8" height="11.4" fill="#fff" stroke="#000" stroke-width="1"/>
<ellipse cx="641.5" cy="1914.3" rx="4.2" ry="2.6" fill="none" stroke="#000"/><ellipse cx="657.5" cy="1914.3" rx="4.2" ry="2.6" fill="none" stroke="#000"/>
<circle cx="917.9" cy="1942.4" r="3.4" fill="none" stroke="#000" stroke-width="1"/>
<g fill="none" stroke="#000">
<path stroke-width="1.8" d="M277.9 1659.2 L277.9 1680.9 M277.9 1694.1 L277.9 1715.8 M277.9 1729.0 L277.9 1750.7 M250.9 1659.2 L250.9 1680.9 M250.9 1694.1 L250.9 1715.8 M230.4 1741.5 L251.8 1741.5 M251.8 1741.5 L251.8 1763.5 M341.3 1659.2 L341.3 1680.9 M368.3 1659.2 L368.3 1680.9 M341.3 1694.1 L341.3 1715.8 M368.3 1694.1 L368.3 1715.8 M341.3 1729.0 L341.3 1750.7 M368.3 1729.0 L368.3 1750.7 M433.9 1659.2 L433.9 1680.9 M460.9 1659.2 L460.9 1680.9 M433.9 1694.1 L433.9 1715.8 M460.9 1694.1 L460.9 1715.8 M433.9 1729.0 L433.9 1750.7 M460.9 1729.0 L460.9 1750.7 M521.2 1659.2 L521.2 1680.9 M521.2 1694.1 L521.2 1715.8 M521.2 1729.0 L521.2 1750.7 M875.3 1667.4 L875.3 1688.7 M875.3 1707.8 L875.3 1729.1 M875.3 1738.3 L875.3 1761.1 M899.7 1667.4 L899.7 1688.7 M899.7 1707.8 L899.7 1729.1 M899.7 1738.3 L899.7 1761.1 M960.6 1667.4 L960.6 1688.7 M960.6 1707.8 L960.6 1729.1 M960.6 1738.3 L960.6 1761.1 M723.1 1713.6 L742.7 1713.6 M757.2 1713.6 L778.2 1713.6 M792.8 1713.6 L813.7 1713.6 M737.3 1738.3 L779.1 1738.3 M792.8 1738.3 L813.7 1738.3 M1118.5 1793.6 L1367.8 1793.6 M1118.5 1817.7 L1367.8 1817.7 M703.4 1973.9 L880.6 1973.9 M869.7 1916.9 L888.0 1938.4"/>
<path stroke-width="2.7" stroke-linecap="square" d="M80.6 1915.2 L573.7 1915.2 M297.5 1792.0 L297.5 1809.5 M273.9 1873.7 L273.9 1893.8 M528.4 1791.0 L528.4 1803.2 M761.3 1789.0 L761.3 1808.2 M975.0 1792.0 L975.0 1807.0 M264.4 1659.2 L264.4 1763.5 M264.4 1659.2 L278.2 1659.2 M277.9 1680.9 L299.6 1680.9 M299.6 1677.3 L299.6 1693.3 M264.4 1693.2 L299.6 1693.2 M277.9 1715.8 L299.6 1715.8 M299.6 1712.2 L299.6 1728.2 M264.4 1728.1 L299.6 1728.1 M277.9 1750.7 L299.6 1750.7 M299.6 1747.1 L299.6 1763.1 M264.4 1763.0 L299.6 1763.0 M264.4 1659.2 L250.6 1659.2 M250.9 1680.9 L229.2 1680.9 M229.2 1677.3 L229.2 1693.3 M264.4 1693.2 L229.2 1693.2 M250.9 1715.8 L229.2 1715.8 M229.2 1712.2 L229.2 1728.2 M264.4 1728.1 L229.2 1728.1 M214.0 1728.9 L251.8 1728.9 M216.5 1728.9 L216.5 1751.6 M193.9 1751.6 L216.5 1751.6 M193.9 1751.6 L193.9 1764.2 M193.9 1764.2 L230.4 1764.2 M230.4 1728.9 L230.4 1764.2 M248.0 1763.5 L264.4 1763.5 M354.8 1659.2 L354.8 1763.5 M354.8 1659.2 L341.0 1659.2 M341.3 1680.9 L319.6 1680.9 M319.6 1677.3 L319.6 1693.3 M354.8 1693.2 L319.6 1693.2 M354.8 1659.2 L368.6 1659.2 M368.3 1680.9 L390.0 1680.9 M390.0 1677.3 L390.0 1693.3 M354.8 1693.2 L390.0 1693.2 M341.3 1715.8 L319.6 1715.8 M319.6 1712.2 L319.6 1728.2 M354.8 1728.1 L319.6 1728.1 M368.3 1715.8 L390.0 1715.8 M390.0 1712.2 L390.0 1728.2 M354.8 1728.1 L390.0 1728.1 M341.3 1750.7 L319.6 1750.7 M319.6 1747.1 L319.6 1763.1 M354.8 1763.0 L319.6 1763.0 M368.3 1750.7 L390.0 1750.7 M390.0 1747.1 L390.0 1763.1 M354.8 1763.0 L390.0 1763.0 M447.4 1659.2 L447.4 1763.5 M447.4 1659.2 L433.6 1659.2 M433.9 1680.9 L412.2 1680.9 M412.2 1677.3 L412.2 1693.3 M447.4 1693.2 L412.2 1693.2 M447.4 1659.2 L461.2 1659.2 M460.9 1680.9 L482.6 1680.9 M482.6 1677.3 L482.6 1693.3 M447.4 1693.2 L482.6 1693.2 M433.9 1715.8 L412.2 1715.8 M412.2 1712.2 L412.2 1728.2 M447.4 1728.1 L412.2 1728.1 M460.9 1715.8 L482.6 1715.8 M482.6 1712.2 L482.6 1728.2 M447.4 1728.1 L482.6 1728.1 M433.9 1750.7 L412.2 1750.7 M412.2 1747.1 L412.2 1763.1 M447.4 1763.0 L412.2 1763.0 M460.9 1750.7 L482.6 1750.7 M482.6 1747.1 L482.6 1763.1 M447.4 1763.0 L482.6 1763.0 M534.7 1659.2 L534.7 1763.5 M534.7 1659.2 L520.9 1659.2 M521.2 1680.9 L499.5 1680.9 M499.5 1677.3 L499.5 1693.3 M534.7 1693.2 L499.5 1693.2 M521.2 1715.8 L499.5 1715.8 M499.5 1712.2 L499.5 1728.2 M534.7 1728.1 L499.5 1728.1 M521.2 1750.7 L499.5 1750.7 M499.5 1747.1 L499.5 1763.1 M534.7 1763.0 L499.5 1763.0 M887.5 1667.4 L887.5 1761.1 M887.5 1667.4 L874.9 1667.4 M875.3 1688.7 L853.3 1688.7 M875.3 1707.8 L853.3 1707.8 M853.3 1688.7 L853.3 1707.8 M887.5 1698.0 L853.3 1698.0 M875.3 1729.1 L853.3 1729.1 M875.3 1738.3 L853.3 1738.3 M853.3 1729.1 L853.3 1738.3 M887.5 1667.4 L900.1 1667.4 M899.7 1688.7 L921.7 1688.7 M899.7 1707.8 L921.7 1707.8 M921.7 1688.7 L921.7 1707.8 M887.5 1698.0 L921.7 1698.0 M899.7 1729.1 L921.7 1729.1 M899.7 1738.3 L921.7 1738.3 M921.7 1729.1 L921.7 1738.3 M972.8 1667.4 L972.8 1761.1 M972.8 1667.4 L960.2 1667.4 M960.6 1688.7 L938.6 1688.7 M960.6 1707.8 L938.6 1707.8 M938.6 1688.7 L938.6 1707.8 M972.8 1698.0 L938.6 1698.0 M960.6 1729.1 L938.6 1729.1 M960.6 1738.3 L938.6 1738.3 M938.6 1729.1 L938.6 1738.3 M851.1 1761.1 L921.8 1761.1 M939.0 1761.1 L972.8 1761.1 M723.1 1726.4 L828.9 1726.4 M723.1 1714.0 L723.1 1760.2 M723.1 1760.2 L738.2 1760.2 M742.7 1692.7 L757.2 1692.7 M742.7 1692.7 L742.7 1713.6 M757.2 1692.7 L757.2 1726.4 M778.2 1692.7 L792.8 1692.7 M778.2 1692.7 L778.2 1713.6 M792.8 1692.7 L792.8 1726.4 M813.7 1692.7 L828.3 1692.7 M813.7 1692.7 L813.7 1713.6 M828.3 1692.7 L828.3 1726.4 M828.3 1692.7 L828.3 1760.2 M737.3 1738.3 L737.3 1760.2 M779.1 1738.3 L779.1 1760.2 M779.1 1760.2 L792.8 1760.2 M792.8 1726.4 L792.8 1760.2 M813.7 1738.3 L813.7 1760.2 M813.7 1760.2 L828.3 1760.2 M1118.5 1768.0 L1118.5 1817.7 M1118.5 1805.2 L1367.8 1805.2 M1367.8 1793.6 L1367.8 1817.7 M1148.6 1805.2 L1148.6 1817.7 M1180.6 1793.6 L1180.6 1817.7 M1211.4 1793.6 L1211.4 1817.7 M1242.2 1793.6 L1242.2 1817.7 M1274.2 1793.6 L1274.2 1817.7 M1305.7 1793.6 L1305.7 1817.7 M1336.5 1793.6 L1336.5 1817.7 M1135.5 1858.0 L1199.5 1858.0 L1199.5 1871.0 L1135.5 1871.0 L1135.5 1858.0 M1167.5 1858.0 L1167.5 1871.0 M1205.0 1858.0 L1301.4 1858.0 L1301.4 1871.0 L1205.0 1871.0 L1205.0 1858.0 M1237.4 1858.0 L1237.4 1871.0 M1269.4 1858.0 L1269.4 1871.0 M1392.1 1939.9 L1419.8 1939.9 M1437.4 1939.9 L1528.0 1939.9"/>
</g>
<use href="#cs" transform="translate(281.0 1669.5) rotate(90)"/>
<use href="#ms" transform="translate(281.0 1669.5) rotate(90) translate(0 11.8)"/>
<use href="#cs" transform="translate(281.0 1704.4) rotate(90)"/>
<use href="#ms" transform="translate(281.0 1704.4) rotate(90) translate(0 11.8)"/>
<use href="#cs" transform="translate(281.0 1739.3) rotate(90)"/>
<use href="#ms" transform="translate(281.0 1739.3) rotate(90) translate(0 11.8)"/>
<use href="#cs" transform="translate(247.8 1669.5) rotate(270)"/>
<use href="#ms" transform="translate(247.8 1669.5) rotate(270) translate(0 11.8)"/>
<use href="#cs" transform="translate(247.8 1704.4) rotate(270)"/>
<use href="#ms" transform="translate(247.8 1704.4) rotate(270) translate(0 11.8)"/>
<use href="#cs" transform="translate(205.2 1746.5)"/>
<use href="#ms" transform="translate(205.2 1746.5) translate(0 11.0)"/>
<use href="#cs" transform="translate(239.7 1744.0) rotate(180)"/>
<use href="#ms" transform="translate(239.7 1744.0) rotate(180) translate(0 11.0)"/>
<use href="#cs" transform="translate(338.2 1669.5) rotate(270)"/>
<use href="#ms" transform="translate(338.2 1669.5) rotate(270) translate(0 11.8)"/>
<use href="#cs" transform="translate(371.4 1669.5) rotate(90)"/>
<use href="#ms" transform="translate(371.4 1669.5) rotate(90) translate(0 11.8)"/>
<use href="#cs" transform="translate(338.2 1704.4) rotate(270)"/>
<use href="#ms" transform="translate(338.2 1704.4) rotate(270) translate(0 11.8)"/>
<use href="#cs" transform="translate(371.4 1704.4) rotate(90)"/>
<use href="#ms" transform="translate(371.4 1704.4) rotate(90) translate(0 11.8)"/>
<use href="#cs" transform="translate(338.2 1739.3) rotate(270)"/>
<use href="#ms" transform="translate(338.2 1739.3) rotate(270) translate(0 11.8)"/>
<use href="#cs" transform="translate(371.4 1739.3) rotate(90)"/>
<use href="#ms" transform="translate(371.4 1739.3) rotate(90) translate(0 11.8)"/>
<use href="#cs" transform="translate(430.8 1669.5) rotate(270)"/>
<use href="#ms" transform="translate(430.8 1669.5) rotate(270) translate(0 11.8)"/>
<use href="#cs" transform="translate(464.0 1669.5) rotate(90)"/>
<use href="#ms" transform="translate(464.0 1669.5) rotate(90) translate(0 11.8)"/>
<use href="#cs" transform="translate(430.8 1704.4) rotate(270)"/>
<use href="#ms" transform="translate(430.8 1704.4) rotate(270) translate(0 11.8)"/>
<use href="#cs" transform="translate(464.0 1704.4) rotate(90)"/>
<use href="#ms" transform="translate(464.0 1704.4) rotate(90) translate(0 11.8)"/>
<use href="#cs" transform="translate(430.8 1739.3) rotate(270)"/>
<use href="#ms" transform="translate(430.8 1739.3) rotate(270) translate(0 11.8)"/>
<use href="#cs" transform="translate(464.0 1739.3) rotate(90)"/>
<use href="#ms" transform="translate(464.0 1739.3) rotate(90) translate(0 11.8)"/>
<use href="#cs" transform="translate(518.1 1669.5) rotate(270)"/>
<use href="#ms" transform="translate(518.1 1669.5) rotate(270) translate(0 11.8)"/>
<use href="#cs" transform="translate(518.1 1704.4) rotate(270)"/>
<use href="#ms" transform="translate(518.1 1704.4) rotate(270) translate(0 11.8)"/>
<use href="#cs" transform="translate(518.1 1739.3) rotate(270)"/>
<use href="#ms" transform="translate(518.1 1739.3) rotate(270) translate(0 11.8)"/>
<use href="#cs" transform="translate(870.7 1678.4) rotate(270)"/>
<use href="#ms" transform="translate(870.7 1678.4) rotate(270) translate(0 11.8)"/>
<use href="#cs" transform="translate(870.7 1718.4) rotate(270)"/>
<use href="#ms" transform="translate(870.7 1718.4) rotate(270) translate(0 11.8)"/>
<use href="#cs" transform="translate(870.7 1749.5) rotate(270)"/>
<use href="#ms" transform="translate(870.7 1749.5) rotate(270) translate(0 11.8)"/>
<use href="#cs" transform="translate(904.3 1678.4) rotate(90)"/>
<use href="#ms" transform="translate(904.3 1678.4) rotate(90) translate(0 11.8)"/>
<use href="#cs" transform="translate(904.3 1718.4) rotate(90)"/>
<use href="#ms" transform="translate(904.3 1718.4) rotate(90) translate(0 11.8)"/>
<use href="#cs" transform="translate(904.3 1749.5) rotate(90)"/>
<use href="#ms" transform="translate(904.3 1749.5) rotate(90) translate(0 11.8)"/>
<use href="#cs" transform="translate(956.0 1678.4) rotate(270)"/>
<use href="#ms" transform="translate(956.0 1678.4) rotate(270) translate(0 11.8)"/>
<use href="#cs" transform="translate(956.0 1718.4) rotate(270)"/>
<use href="#ms" transform="translate(956.0 1718.4) rotate(270) translate(0 11.8)"/>
<use href="#cs" transform="translate(956.0 1749.5) rotate(270)"/>
<use href="#ms" transform="translate(956.0 1749.5) rotate(270) translate(0 11.8)"/>
<use href="#ch" transform="translate(733.4 1710.4)"/>
<use href="#mo" transform="translate(733.4 1710.4) translate(0 11.0)"/>
<use href="#ch" transform="translate(768.4 1710.4)"/>
<use href="#mo" transform="translate(768.4 1710.4) translate(0 11.0)"/>
<use href="#ch" transform="translate(803.6 1710.4)"/>
<use href="#mo" transform="translate(803.6 1710.4) translate(0 11.0)"/>
<use href="#ch" transform="translate(746.6 1742.4) rotate(180)"/>
<use href="#mo" transform="translate(746.6 1742.4) rotate(180) translate(0 11.0)"/>
<use href="#ch" transform="translate(768.4 1742.4) rotate(180)"/>
<use href="#mo" transform="translate(768.4 1742.4) rotate(180) translate(0 11.0)"/>
<use href="#ch" transform="translate(803.6 1742.4) rotate(180)"/>
<use href="#mo" transform="translate(803.6 1742.4) rotate(180) translate(0 11.0)"/>
<use href="#ch" transform="translate(1133.2 1789.3)"/>
<use href="#mo" transform="translate(1133.2 1789.3) translate(0 11.5)"/>
<use href="#ch" transform="translate(1133.2 1821.8) rotate(180)"/>
<use href="#mo" transform="translate(1133.2 1821.8) rotate(180) translate(0 11.5)"/>
<use href="#ch" transform="translate(1165.2 1789.3)"/>
<use href="#mo" transform="translate(1165.2 1789.3) translate(0 11.5)"/>
<use href="#ch" transform="translate(1165.2 1821.8) rotate(180)"/>
<use href="#mo" transform="translate(1165.2 1821.8) rotate(180) translate(0 11.5)"/>
<use href="#ch" transform="translate(1195.5 1789.3)"/>
<use href="#mo" transform="translate(1195.5 1789.3) translate(0 11.5)"/>
<use href="#ch" transform="translate(1195.5 1821.8) rotate(180)"/>
<use href="#mo" transform="translate(1195.5 1821.8) rotate(180) translate(0 11.5)"/>
<use href="#ch" transform="translate(1226.8 1789.3)"/>
<use href="#mo" transform="translate(1226.8 1789.3) translate(0 11.5)"/>
<use href="#ch" transform="translate(1226.8 1821.8) rotate(180)"/>
<use href="#mo" transform="translate(1226.8 1821.8) rotate(180) translate(0 11.5)"/>
<use href="#ch" transform="translate(1258.3 1789.3)"/>
<use href="#mo" transform="translate(1258.3 1789.3) translate(0 11.5)"/>
<use href="#ch" transform="translate(1258.3 1821.8) rotate(180)"/>
<use href="#mo" transform="translate(1258.3 1821.8) rotate(180) translate(0 11.5)"/>
<use href="#ch" transform="translate(1289.1 1789.3)"/>
<use href="#mo" transform="translate(1289.1 1789.3) translate(0 11.5)"/>
<use href="#ch" transform="translate(1289.1 1821.8) rotate(180)"/>
<use href="#mo" transform="translate(1289.1 1821.8) rotate(180) translate(0 11.5)"/>
<use href="#ch" transform="translate(1319.9 1789.3)"/>
<use href="#mo" transform="translate(1319.9 1789.3) translate(0 11.5)"/>
<use href="#ch" transform="translate(1319.9 1821.8) rotate(180)"/>
<use href="#mo" transform="translate(1319.9 1821.8) rotate(180) translate(0 11.5)"/>
<use href="#ch" transform="translate(1351.9 1789.3)"/>
<use href="#mo" transform="translate(1351.9 1789.3) translate(0 11.5)"/>
<use href="#ch" transform="translate(1351.9 1821.8) rotate(180)"/>
<use href="#mo" transform="translate(1351.9 1821.8) rotate(180) translate(0 11.5)"/>
<use href="#ch" transform="translate(1151.7 1853.3)"/>
<use href="#mo" transform="translate(1151.7 1853.3) translate(0 12.0)"/>
<use href="#ch" transform="translate(1182.9 1853.3)"/>
<use href="#mo" transform="translate(1182.9 1853.3) translate(0 12.0)"/>
<use href="#ch" transform="translate(1222.0 1853.3)"/>
<use href="#mo" transform="translate(1222.0 1853.3) translate(0 12.0)"/>
<use href="#ch" transform="translate(1253.6 1853.3)"/>
<use href="#mo" transform="translate(1253.6 1853.3) translate(0 12.0)"/>
<use href="#ch" transform="translate(1284.8 1853.3)"/>
<use href="#mo" transform="translate(1284.8 1853.3) translate(0 12.0)"/>
</svg>
</body></html>
